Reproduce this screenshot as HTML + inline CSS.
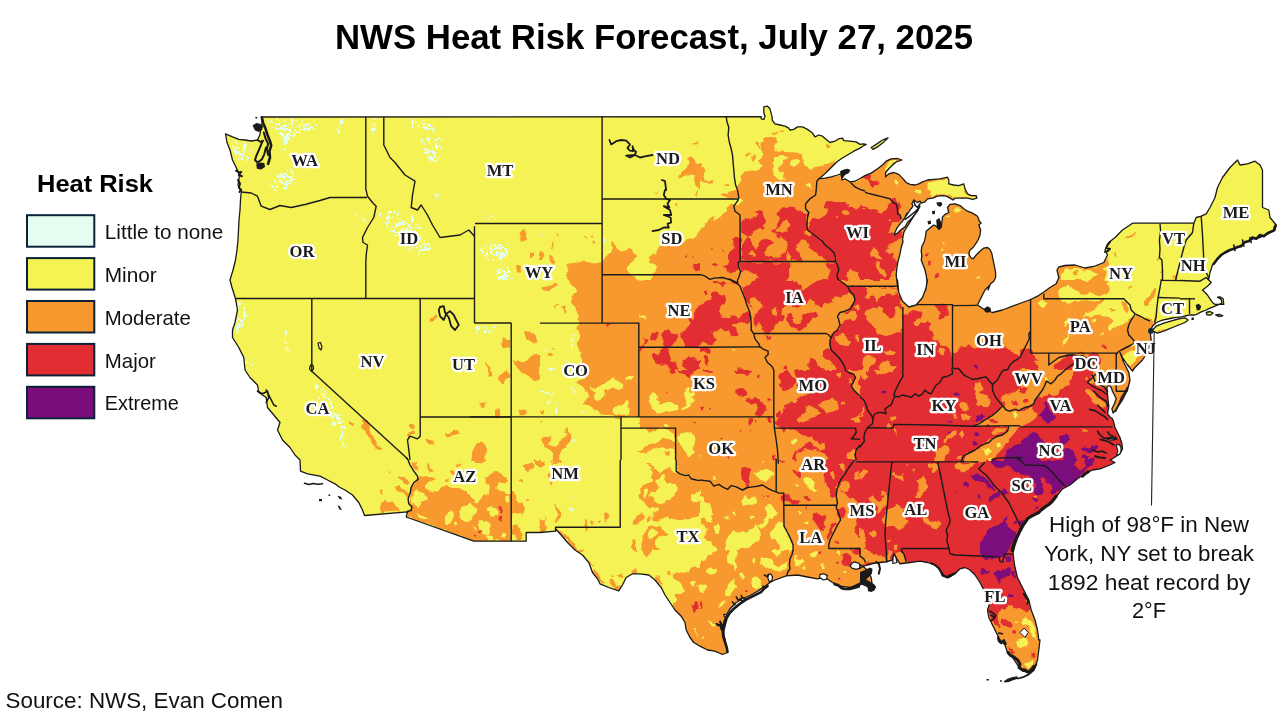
<!DOCTYPE html>
<html lang="en"><head><meta charset="utf-8"><title>NWS Heat Risk Forecast, July 27, 2025</title>
<style>html,body{margin:0;padding:0;background:#fff;overflow:hidden}svg{display:block}</style></head>
<body>
<svg width="1280" height="720" viewBox="0 0 1280 720">
<rect width="1280" height="720" fill="#fff"/>
<defs><clipPath id="us"><path d="M261.2,117.0 761.2,116.6 761.2,118.8 763.8,119.4 765.0,116.2 763.8,112.5 763.8,106.9 767.5,106.2 770.0,108.8 771.9,116.2 772.5,120.6 775.0,123.8 780.0,125.0 785.0,126.2 788.8,128.1 790.0,130.0 793.8,129.4 797.5,126.9 802.5,126.9 807.5,129.4 810.0,131.2 812.5,133.1 815.0,136.9 818.8,135.0 822.5,136.2 826.2,139.4 830.0,142.5 835.0,141.2 838.8,138.8 842.5,138.1 843.8,140.6 850.0,141.2 856.2,141.9 860.0,144.4 863.1,143.8 866.2,144.4 863.1,146.0 860.0,148.1 853.8,151.2 847.5,155.0 841.2,158.8 836.2,162.5 831.2,167.5 826.2,172.5 821.2,176.9 818.8,178.8 825.0,178.1 831.2,176.9 837.5,175.0 841.2,173.8 841.9,180.0 845.0,178.8 850.0,181.9 855.0,181.2 860.0,178.5 865.0,175.6 871.2,173.1 877.5,168.8 882.5,165.0 886.2,161.2 891.2,158.8 897.5,158.5 901.9,160.0 896.2,161.9 892.5,165.0 888.8,168.8 885.6,172.5 885.6,176.9 888.8,173.8 893.8,172.5 898.8,174.4 902.5,178.1 906.2,182.5 910.0,184.4 915.0,185.0 918.8,183.8 922.5,181.9 927.5,180.0 933.8,179.4 940.0,178.8 947.5,177.2 948.8,180.0 948.8,183.8 953.8,185.0 958.8,185.6 963.8,183.8 965.0,188.8 967.5,193.8 971.2,195.6 976.2,195.6 976.9,198.1 972.5,199.4 967.5,198.1 960.0,198.1 955.0,198.1 953.1,200.0 950.0,198.1 946.2,196.2 942.5,195.6 937.5,196.2 932.5,198.1 927.5,198.8 925.0,201.9 921.2,203.1 920.0,201.2 917.5,202.5 913.8,200.0 911.9,203.8 913.1,206.2 910.0,210.0 907.5,213.8 905.0,217.5 906.9,213.1 905.0,217.5 902.5,221.2 900.6,223.1 896.9,228.1 895.0,232.5 894.4,235.0 897.5,233.1 900.6,230.0 905.0,226.9 907.5,222.5 911.2,218.8 915.0,213.8 918.1,209.4 920.0,206.2 917.5,211.2 913.8,216.2 910.6,221.2 907.5,226.2 905.0,230.0 903.8,232.5 903.1,236.2 902.5,240.0 903.1,241.2 901.2,247.5 900.0,253.8 898.1,261.2 896.9,267.5 896.2,275.0 896.9,281.2 897.5,286.2 898.1,290.0 897.5,280.0 898.8,292.5 902.5,301.2 908.8,307.0 916.2,305.0 922.5,297.5 926.2,287.5 927.5,280.0 925.6,290.0 926.2,287.5 926.9,281.2 926.2,275.0 925.0,270.0 923.1,265.0 921.2,260.0 921.9,256.2 921.2,251.2 921.9,246.2 924.4,241.2 925.6,236.2 926.2,231.2 930.0,228.1 933.8,225.0 936.2,226.2 938.8,229.4 941.2,226.9 941.9,222.5 942.5,216.9 945.0,214.4 948.8,212.5 947.5,207.5 950.0,204.4 955.0,203.8 960.0,205.6 963.8,208.8 967.5,211.2 972.5,213.1 977.5,216.2 979.4,221.2 981.2,223.1 978.8,225.0 980.6,230.0 980.0,235.0 978.1,240.0 975.6,243.8 973.1,247.5 970.0,250.0 968.8,253.8 970.6,257.5 973.1,258.8 976.2,255.0 980.0,251.2 983.8,248.1 987.5,247.5 990.0,249.4 991.9,253.8 993.1,260.0 994.4,266.2 995.6,272.5 995.6,277.5 993.8,281.2 990.6,283.8 988.8,287.5 988.1,290.0 990.0,285.0 985.0,290.0 981.2,297.5 977.5,305.0 985.0,310.0 992.5,312.5 1002.5,310.0 1012.5,306.2 1022.5,302.5 1030.8,299.5 1037.5,296.2 1043.8,292.0 1050.0,287.5 1056.2,283.8 1058.8,277.5 1057.0,270.0 1058.8,267.0 1065.0,265.5 1075.0,265.0 1085.0,268.0 1095.0,266.2 1103.8,262.5 1107.5,255.0 1105.0,250.0 1108.8,242.5 1115.0,237.5 1122.5,230.0 1132.5,223.2 1160.0,223.2 1193.8,223.2 1196.2,217.5 1201.2,216.2 1206.2,213.8 1210.0,207.5 1215.0,197.5 1217.5,187.5 1222.5,177.5 1230.0,167.5 1237.5,160.0 1240.0,165.0 1247.5,163.8 1255.0,161.2 1260.0,165.0 1262.5,170.0 1262.5,192.5 1262.5,207.5 1268.8,210.0 1270.0,217.5 1276.2,225.0 1275.0,230.0 1267.5,233.8 1260.0,237.5 1252.5,238.8 1245.0,242.5 1237.5,247.5 1230.0,250.0 1222.5,253.8 1217.5,258.8 1212.5,265.0 1210.0,272.5 1208.8,278.8 1206.2,277.5 1211.2,282.5 1207.5,286.2 1202.5,290.0 1205.0,292.5 1207.5,295.0 1210.0,298.8 1212.5,302.5 1215.0,304.4 1223.8,304.4 1223.1,298.8 1220.0,296.9 1217.5,297.2 1221.2,299.4 1221.9,303.1 1215.0,306.2 1210.0,308.1 1206.2,310.0 1201.2,311.9 1197.5,313.8 1195.0,315.0 1190.0,314.8 1185.0,316.0 1177.5,317.2 1170.0,318.5 1162.5,320.2 1156.2,322.5 1152.5,326.2 1151.2,328.8 1150.0,331.2 1151.2,340.0 1147.5,352.5 1142.5,360.0 1135.0,367.5 1132.5,371.2 1127.5,365.0 1122.5,357.5 1120.0,352.5 1123.8,362.5 1128.8,372.5 1130.0,380.0 1127.5,390.0 1122.5,400.0 1117.5,407.5 1113.1,413.1 1111.9,408.8 1114.4,403.8 1116.2,398.8 1114.4,395.0 1112.5,391.2 1111.2,387.5 1109.0,385.0 1106.9,386.9 1107.5,395.0 1108.8,406.2 1107.5,413.8 1110.0,416.9 1112.5,418.8 1113.8,422.5 1115.0,427.5 1117.5,432.5 1120.0,437.5 1121.9,443.8 1122.5,448.8 1120.0,453.8 1116.2,456.2 1112.5,458.8 1110.0,460.0 1115.0,462.5 1110.0,465.0 1100.0,468.8 1092.5,470.0 1085.0,473.8 1077.5,478.8 1070.0,485.0 1062.5,488.8 1057.5,495.0 1052.5,501.2 1045.0,507.5 1037.5,512.5 1030.0,517.5 1023.8,522.5 1020.0,528.8 1017.5,535.0 1015.0,542.5 1013.0,552.5 1013.8,560.0 1015.0,567.5 1017.5,577.5 1021.2,585.0 1025.0,592.5 1028.8,600.0 1031.2,610.0 1035.0,620.0 1037.5,630.0 1038.8,640.0 1040.0,640.0 1038.8,650.0 1037.5,660.0 1035.0,667.5 1030.0,672.5 1022.5,671.2 1017.5,665.0 1012.5,657.5 1007.5,652.5 1005.0,645.0 1000.0,640.0 996.2,632.5 992.5,625.0 988.8,617.5 987.5,610.0 990.0,602.5 986.2,597.5 983.8,590.0 980.0,582.5 975.0,575.0 970.0,570.0 965.0,567.5 960.0,568.8 955.0,573.8 948.8,577.5 943.8,575.0 940.0,570.0 935.0,565.0 927.5,562.5 920.0,561.2 910.0,562.5 900.0,563.8 893.8,553.8 892.5,560.0 885.0,562.0 875.0,563.0 867.5,565.0 860.0,567.5 862.5,566.2 867.5,570.0 871.2,577.5 872.5,587.5 865.0,581.2 860.0,585.0 850.0,587.5 840.0,586.2 832.5,582.5 825.0,577.5 817.5,578.8 807.5,577.0 797.5,575.0 786.2,575.8 775.0,580.0 770.0,582.5 765.0,586.2 757.5,591.2 750.0,595.5 742.5,598.8 736.2,602.5 730.0,608.8 726.2,615.0 723.8,622.5 722.5,630.0 723.8,637.5 726.2,645.0 727.5,652.5 722.5,654.5 715.0,651.2 707.5,650.0 700.0,646.2 693.8,642.5 690.0,637.5 686.2,630.0 685.0,622.5 681.2,616.2 675.0,610.0 670.0,602.5 665.0,595.0 661.2,587.5 655.0,580.0 648.8,575.0 640.0,573.8 632.5,573.8 626.2,577.5 622.5,585.0 618.8,590.8 608.8,587.5 600.0,583.8 597.5,578.8 592.5,572.5 588.8,562.5 582.5,555.0 575.0,550.0 567.5,542.5 561.2,535.0 555.5,528.8 555.5,531.2 540.0,532.5 526.2,532.5 526.2,541.2 511.2,541.2 473.8,541.2 406.2,517.0 407.5,511.8 364.5,515.5 362.5,510.0 358.8,502.5 352.5,495.0 345.0,490.0 340.0,487.5 335.0,483.8 327.5,480.0 320.0,476.2 307.5,473.8 300.5,471.2 300.0,460.0 295.0,455.0 290.0,447.5 282.5,440.0 277.5,430.0 280.0,422.5 273.8,415.0 267.5,407.5 266.2,397.5 258.8,392.5 257.5,385.0 250.0,377.5 245.0,370.0 243.8,357.5 238.8,347.5 232.5,337.5 232.5,330.0 235.0,322.5 237.5,310.0 235.5,298.8 232.0,287.5 230.0,280.0 233.0,270.0 235.5,260.0 237.0,250.0 238.0,240.0 238.5,230.0 239.0,220.0 240.0,210.0 240.5,200.0 241.2,192.0 238.0,185.0 239.5,175.0 236.2,167.5 232.5,160.0 230.0,150.0 227.0,142.5 225.5,133.8 232.5,136.9 238.8,139.4 245.0,140.0 251.2,141.0 257.5,140.0 259.8,135.0 261.2,127.5 262.2,122.5 261.5,117.5Z M871.2,147.5 876.2,144.4 882.5,140.0 888.1,137.8 883.8,141.9 877.5,146.9 873.1,149.4Z M1151.9,330.6 1156.2,326.2 1163.8,323.1 1172.5,320.6 1180.0,318.5 1185.0,317.8 1188.1,320.0 1185.0,322.5 1178.8,325.0 1172.5,327.5 1165.0,330.6 1157.5,333.1Z M1206.2,312.5 1210.0,311.5 1213.1,313.1 1210.6,315.0 1206.9,314.8Z M1215.6,315.0 1220.0,314.5 1222.8,315.8 1218.8,316.5Z"/></clipPath></defs>
<pattern id="spk" width="24" height="24" patternUnits="userSpaceOnUse"><g fill="#E4FDF0"><rect x="7" y="18" width="2" height="2"/><rect x="19" y="15" width="1" height="1"/><rect x="15" y="8" width="2" height="2"/><rect x="22" y="15" width="3" height="3"/><rect x="20" y="4" width="2" height="2"/><rect x="16" y="12" width="1" height="1"/><rect x="5" y="18" width="1" height="2"/><rect x="0" y="8" width="3" height="3"/><rect x="22" y="13" width="3" height="3"/><rect x="4" y="11" width="1" height="1"/><rect x="4" y="15" width="2" height="2"/><rect x="21" y="13" width="2" height="3"/><rect x="16" y="12" width="2" height="3"/><rect x="18" y="7" width="2" height="1"/><rect x="8" y="19" width="2" height="2"/><rect x="17" y="18" width="1" height="2"/><rect x="20" y="18" width="2" height="2"/><rect x="3" y="2" width="3" height="3"/><rect x="2" y="11" width="1" height="3"/><rect x="4" y="0" width="2" height="3"/><rect x="13" y="3" width="1" height="1"/><rect x="12" y="22" width="2" height="2"/><rect x="16" y="7" width="1" height="2"/><rect x="0" y="2" width="1" height="1"/><rect x="6" y="13" width="2" height="2"/><rect x="4" y="22" width="1" height="2"/><rect x="10" y="11" width="2" height="3"/><rect x="12" y="14" width="3" height="1"/><rect x="19" y="16" width="2" height="3"/><rect x="20" y="22" width="2" height="2"/><rect x="13" y="8" width="2" height="2"/><rect x="0" y="13" width="2" height="1"/><rect x="12" y="19" width="2" height="1"/><rect x="20" y="20" width="2" height="3"/><rect x="11" y="21" width="2" height="2"/><rect x="15" y="0" width="1" height="1"/><rect x="11" y="8" width="3" height="2"/><rect x="18" y="19" width="2" height="2"/><rect x="11" y="5" width="2" height="2"/><rect x="19" y="8" width="2" height="3"/><rect x="3" y="0" width="2" height="2"/><rect x="16" y="7" width="2" height="2"/><rect x="10" y="5" width="3" height="1"/><rect x="3" y="19" width="2" height="2"/><rect x="21" y="7" width="3" height="2"/><rect x="2" y="10" width="2" height="3"/><rect x="8" y="7" width="1" height="1"/><rect x="16" y="6" width="2" height="2"/><rect x="8" y="10" width="1" height="2"/><rect x="18" y="4" width="3" height="2"/><rect x="16" y="8" width="3" height="2"/><rect x="20" y="13" width="2" height="3"/><rect x="18" y="13" width="1" height="3"/><rect x="4" y="6" width="1" height="3"/><rect x="19" y="16" width="3" height="2"/><rect x="1" y="14" width="2" height="2"/><rect x="7" y="2" width="2" height="1"/><rect x="7" y="1" width="1" height="2"/><rect x="13" y="18" width="1" height="1"/><rect x="15" y="3" width="2" height="2"/></g></pattern>
<filter id="rough" x="0" y="0" width="1280" height="720" filterUnits="userSpaceOnUse"><feTurbulence type="fractalNoise" baseFrequency="0.11" numOctaves="2" seed="7" result="n"/><feDisplacementMap in="SourceGraphic" in2="n" scale="7" xChannelSelector="R" yChannelSelector="G"/></filter>
<g clip-path="url(#us)"><rect x="200" y="90" width="1080" height="610" fill="#F5F254"/><g filter="url(#rough)"><rect x="190" y="80" width="1100" height="630" fill="#F5F254"/>
<defs><clipPath id="t0"><rect x="700" y="100" width="160" height="90"/></clipPath><clipPath id="t1"><rect x="540" y="100" width="160" height="90"/></clipPath><clipPath id="t2"><rect x="540" y="190" width="160" height="90"/></clipPath><clipPath id="t3"><rect x="700" y="190" width="160" height="90"/></clipPath><clipPath id="t4"><rect x="540" y="280" width="160" height="90"/></clipPath><clipPath id="t5"><rect x="700" y="280" width="160" height="90"/></clipPath><clipPath id="t6"><rect x="860" y="280" width="160" height="90"/></clipPath><clipPath id="t7"><rect x="1020" y="280" width="160" height="90"/></clipPath><clipPath id="t8"><rect x="540" y="370" width="160" height="90"/></clipPath><clipPath id="t9"><rect x="700" y="370" width="160" height="90"/></clipPath><clipPath id="t10"><rect x="860" y="370" width="160" height="90"/></clipPath><clipPath id="t11"><rect x="1020" y="370" width="160" height="90"/></clipPath><clipPath id="t12"><rect x="540" y="460" width="160" height="90"/></clipPath><clipPath id="t13"><rect x="700" y="460" width="160" height="90"/></clipPath><clipPath id="t14"><rect x="860" y="460" width="160" height="90"/></clipPath><clipPath id="t15"><rect x="1020" y="460" width="160" height="90"/></clipPath><clipPath id="t16"><rect x="860" y="190" width="160" height="90"/></clipPath><clipPath id="t17"><rect x="860" y="100" width="160" height="90"/></clipPath><clipPath id="t18"><rect x="1020" y="190" width="160" height="90"/></clipPath><clipPath id="t19"><rect x="540" y="550" width="160" height="90"/></clipPath><clipPath id="t20"><rect x="700" y="550" width="160" height="90"/></clipPath><clipPath id="t21"><rect x="860" y="550" width="160" height="90"/></clipPath><clipPath id="t22"><rect x="980" y="540" width="160" height="90"/></clipPath><clipPath id="t23"><rect x="940" y="600" width="160" height="90"/></clipPath><clipPath id="t24"><rect x="380" y="460" width="160" height="90"/></clipPath><clipPath id="t25"><rect x="220" y="100" width="320" height="180"/></clipPath><clipPath id="t26"><rect x="220" y="280" width="320" height="180"/></clipPath><clipPath id="t27"><rect x="640" y="620" width="160" height="90"/></clipPath></defs>
<g clip-path="url(#t0)">
<rect x="700" y="100" width="160" height="90" fill="#F5F254"/>
<path fill="#F7992E" d="M737.5,190.0 738.8,186.2 742.5,180.0 741.2,175.0 743.8,171.2 750.0,171.2 755.0,170.0 760.0,168.8 762.5,165.0 758.8,161.2 762.5,158.8 763.8,155.0 761.2,151.2 758.8,147.5 761.2,143.8 765.0,142.5 763.8,138.8 767.5,136.9 773.8,136.9 776.2,138.8 776.9,142.5 773.8,146.2 775.0,148.8 780.0,151.2 787.5,151.9 795.0,152.5 800.0,153.8 802.5,156.2 801.2,160.0 803.8,163.8 806.2,167.5 812.5,168.1 818.8,167.5 825.0,165.0 831.2,161.9 836.2,160.6 831.2,167.5 826.2,172.5 821.2,176.9 818.8,178.8 825.0,178.1 831.2,176.9 837.5,175.0 841.2,173.8 841.9,180.0 845.0,178.8 850.0,181.9 855.0,181.2 860.0,178.1 860.0,190.0Z M745.0,155.0 750.0,152.5 751.2,153.8 746.2,157.5Z M753.8,143.1 756.2,143.1 758.8,146.9 756.9,147.5Z M752.5,155.0 756.2,153.8 755.0,158.8 753.8,162.5 751.9,161.2Z M770.0,133.1 776.2,131.2 777.5,131.9 771.2,135.0Z M778.8,129.4 781.9,129.4 781.9,131.2 778.8,131.2Z M826.2,143.8 831.2,145.0 831.2,146.9 826.2,145.6Z M700.0,168.1 703.8,168.8 705.0,173.8 703.8,178.8 707.5,181.2 712.5,181.2 711.2,185.0 706.2,183.8 702.5,181.2 700.0,177.5Z M723.8,185.6 726.9,185.0 726.9,186.9 723.8,186.9Z"/>
<path fill="#F5F254" d="M775.0,156.2 781.2,155.0 787.5,156.2 786.2,158.8 782.5,160.0 783.8,162.5 781.2,165.0 780.0,170.0 783.8,175.0 785.0,178.8 781.2,180.0 777.5,177.5 776.2,173.8 772.5,171.2 773.8,166.2 772.5,162.5 775.0,160.0Z M790.0,160.0 796.2,158.8 800.0,161.2 798.8,163.8 793.8,166.2 790.0,165.0Z M805.0,185.0 810.0,183.8 811.2,187.5 807.5,188.8Z"/>
</g>
<g clip-path="url(#t1)">
<rect x="540" y="100" width="160" height="90" fill="#F5F254"/>
<path fill="#F7992E" d="M686.2,158.8 691.2,156.2 695.0,158.8 697.5,162.5 700.0,163.8 700.0,190.0 696.2,185.0 695.0,177.5 693.8,173.8 690.0,175.0 686.2,176.2 681.2,177.5 678.8,178.8 681.2,172.5 685.0,170.0 687.5,165.0 688.8,161.2Z M691.2,143.1 697.5,142.2 696.9,144.0 691.9,144.5Z"/>
</g>
<g clip-path="url(#t2)">
<rect x="540" y="190" width="160" height="90" fill="#F5F254"/>
<path fill="#F7992E" d="M566.9,280.0 566.9,271.2 568.8,265.0 573.8,261.9 581.2,261.2 590.0,262.5 597.5,261.9 602.5,262.5 605.0,258.8 607.5,255.0 610.0,252.5 612.5,248.8 611.2,243.8 612.5,242.5 615.0,245.0 617.5,248.1 621.2,252.5 626.2,251.2 630.0,248.1 632.5,251.2 636.2,255.0 637.5,257.5 635.0,260.0 632.5,262.5 630.0,265.0 627.5,268.8 630.0,272.5 633.8,276.2 636.2,280.0Z M650.0,280.0 652.5,275.0 655.6,270.0 656.2,266.2 652.5,263.8 650.0,261.2 652.5,255.0 656.2,252.5 658.8,246.2 665.0,245.0 675.0,244.4 683.8,242.5 687.5,240.0 693.8,238.8 697.5,232.5 700.0,230.0 700.0,280.0Z M540.0,251.2 542.5,250.0 544.4,255.0 542.5,260.0 540.0,260.0Z M549.4,255.6 552.5,257.5 555.6,261.2 553.8,265.0 551.2,262.5 549.4,258.8Z M557.5,233.8 560.0,233.8 559.4,236.9 557.5,236.2Z M551.9,240.0 553.1,240.0 553.8,247.5 552.5,248.8Z M583.8,237.5 586.2,236.9 585.6,238.8Z M590.0,236.2 593.1,235.6 592.5,238.1Z M591.2,240.6 593.8,241.2 593.1,243.8Z M675.0,203.1 676.9,203.1 677.5,206.9 676.0,207.5Z M655.6,193.1 658.8,193.8 658.1,195.6Z M695.0,195.0 697.5,190.6 698.1,192.5 696.2,198.1Z"/>
<path fill="#E22E33" d="M693.1,265.0 696.2,263.8 700.0,263.1 700.0,270.0 696.2,271.2 693.8,269.4Z M683.8,256.9 686.2,256.2 685.6,258.8Z M692.5,255.0 695.0,255.0 694.4,256.9Z"/>
<path fill="url(#spk)" d="M540.0,233.1 542.5,233.1 546.2,240.0 547.5,243.8 545.0,242.5 542.5,238.8Z M603.8,239.4 607.5,240.0 606.9,242.5 608.1,245.0 605.6,243.8Z M606.9,249.4 610.0,250.0 608.8,252.5Z"/>
</g>
<g clip-path="url(#t3)">
<rect x="700" y="190" width="160" height="90" fill="#F7992E"/>
<path fill="#F5F254" d="M700.0,190.0 730.0,190.0 728.8,193.8 722.5,195.0 725.0,197.5 731.2,198.8 737.5,197.5 742.5,198.8 741.2,202.5 736.2,203.8 732.5,202.5 728.8,203.8 726.2,207.5 727.5,211.2 723.8,213.1 720.0,216.9 716.2,220.0 713.8,215.0 710.0,218.8 706.2,222.5 702.5,222.5 703.8,226.2 700.0,228.8Z"/>
<path fill="#E22E33" d="M741.2,223.8 746.2,218.1 752.5,216.9 756.2,218.1 758.8,215.0 755.0,212.5 757.5,210.6 762.5,211.9 763.8,216.9 766.2,218.8 765.0,223.8 762.5,225.6 765.0,228.8 762.5,231.2 758.8,228.8 755.0,231.2 751.2,236.2 747.5,237.5 743.8,233.8 741.2,230.0Z M777.5,213.1 780.0,208.8 787.5,207.5 792.5,206.2 798.8,210.0 806.2,213.8 807.5,221.2 806.9,227.5 805.0,232.5 808.8,236.2 812.5,235.0 817.5,238.1 822.5,241.9 825.0,245.0 830.0,248.8 833.8,252.5 835.6,261.5 826.2,261.5 823.8,257.5 818.8,255.0 815.0,252.5 810.0,248.8 808.8,242.5 805.0,238.8 800.0,240.0 797.5,243.8 796.2,248.8 800.0,253.8 803.8,258.8 800.0,261.5 791.2,261.5 790.0,256.2 787.5,252.5 786.2,246.2 787.5,242.5 785.0,238.8 781.2,236.2 777.5,237.5 773.8,233.8 771.2,231.2 775.0,227.5 777.5,222.5 780.0,218.8 777.5,216.2Z M741.2,261.5 741.2,245.0 745.0,240.0 747.5,237.5 750.0,240.0 752.5,245.0 757.5,248.8 758.8,243.8 761.2,240.0 765.0,238.8 770.0,240.0 772.5,242.5 770.0,246.2 767.5,250.0 765.0,252.5 767.5,256.2 773.8,257.5 777.5,260.0 780.0,257.5 782.5,252.5 786.2,248.8 786.2,255.0 788.8,261.5Z M732.5,240.0 736.2,237.5 740.0,238.8 740.0,261.5 737.5,262.5 738.8,267.5 736.2,271.2 732.5,273.8 728.8,272.5 725.0,270.0 722.5,267.5 727.5,265.0 731.2,261.2 728.8,256.2 730.0,252.5 733.8,250.0 736.2,246.2 733.8,243.8Z M711.2,265.0 716.2,263.8 718.8,265.6 715.0,267.5 711.9,266.9Z M711.9,247.5 713.8,247.5 713.1,250.0Z M721.2,250.0 723.1,251.2 722.5,253.8Z M807.5,231.2 810.0,222.5 812.5,218.8 817.5,220.0 821.2,216.2 825.0,213.8 827.5,208.8 823.8,206.2 826.2,201.2 831.2,200.0 837.5,201.2 843.8,203.8 850.0,207.5 856.2,208.8 860.0,206.2 860.0,272.5 853.8,271.2 848.8,270.0 846.2,275.0 847.5,280.0 838.1,280.0 836.9,275.0 838.8,270.0 837.5,265.0 835.6,261.5 835.6,257.5 833.8,252.5 830.0,248.8 825.0,245.0 822.5,241.2 817.5,237.5 812.5,233.8Z M738.8,262.5 790.0,262.5 790.6,267.5 787.5,272.5 786.2,280.0 757.5,280.0 755.0,275.0 750.0,271.2 745.0,270.0 741.2,271.2 740.0,267.5Z M826.2,262.5 835.6,262.5 837.5,265.0 838.8,270.0 836.9,275.0 838.1,280.0 828.8,280.0 827.5,275.0 830.0,270.0 827.5,266.2Z"/>
<path fill="#F7992E" d="M773.8,228.8 780.0,226.2 785.0,221.2 787.5,220.0 789.4,226.2 787.5,231.2 782.5,233.8 777.5,232.5 773.8,231.2Z M749.4,252.5 753.8,250.0 756.2,253.8 753.8,256.9 750.0,255.6Z M766.2,248.8 771.2,245.0 775.0,240.0 780.0,237.5 782.5,240.0 781.2,245.0 777.5,248.8 773.8,251.2 770.0,255.0 766.2,253.8Z M836.2,216.2 838.8,215.6 838.8,218.8 836.2,218.8Z M843.8,211.2 847.5,208.8 851.2,211.2 848.8,213.8 845.0,213.8Z"/>
</g>
<g clip-path="url(#t4)">
<rect x="540" y="280" width="160" height="90" fill="#F7992E"/>
<path fill="#F5F254" d="M540.0,280.0 568.8,280.0 571.2,285.0 575.0,288.8 576.2,293.8 572.5,296.2 570.0,301.2 572.5,306.2 576.2,311.2 580.0,315.0 578.8,321.2 577.5,326.2 576.2,330.0 578.8,335.0 580.0,340.0 578.8,345.0 581.2,352.5 580.0,357.5 582.5,362.5 583.8,367.5 582.5,370.0 540.0,370.0Z"/>
<path fill="#F7992E" d="M541.2,288.8 545.0,287.5 547.5,286.2 551.2,285.0 555.0,282.5 558.8,281.9 559.4,285.6 555.0,286.9 551.2,288.8 547.5,291.2 543.8,290.6Z M561.2,306.2 565.0,305.6 566.9,310.0 567.5,313.8 565.6,313.1 564.4,309.4 561.9,308.1Z M555.0,305.6 558.1,305.0 556.2,308.1 555.0,310.6Z M547.5,353.8 551.2,352.5 552.5,355.0 548.8,356.2Z M552.5,348.8 555.0,348.1 555.6,350.6Z"/>
<path fill="url(#spk)" d="M571.9,335.0 573.8,335.0 573.8,342.5 571.2,350.0 568.8,355.0 566.2,360.0 565.0,365.0 563.8,367.5 562.5,362.5 566.2,357.5 569.4,352.5 571.2,345.0Z M543.8,347.5 546.2,346.2 546.9,349.4 544.4,350.0Z M547.5,366.2 552.5,365.0 557.5,366.2 558.8,370.0 548.8,370.0Z"/>
<path fill="#F5F254" d="M640.0,315.6 646.2,316.9 645.6,318.5 640.0,316.9Z M636.2,280.0 643.8,280.0 642.5,281.9 637.5,281.2Z"/>
<path fill="#E22E33" d="M700.0,305.0 696.2,308.8 693.8,312.5 692.5,317.5 687.5,318.8 690.0,322.5 686.2,327.5 682.5,332.5 680.0,336.2 683.8,340.0 686.2,345.0 690.0,347.2 696.2,347.2 700.0,345.0Z M663.1,331.2 667.5,330.0 671.2,332.5 676.2,333.8 677.5,337.5 675.0,341.2 672.5,345.0 670.0,347.2 665.0,347.2 662.5,343.8 663.8,340.0 661.2,336.2Z M650.0,333.8 653.8,332.5 657.5,333.8 658.8,337.5 655.0,340.0 651.2,338.8Z M643.8,338.8 647.5,338.1 646.2,342.5 643.8,345.0 641.2,347.5 640.0,351.2 643.1,351.2 643.8,347.5Z M605.6,324.4 609.4,323.8 608.8,326.2 606.2,327.2Z M650.0,355.0 653.8,352.5 658.8,353.8 662.5,350.0 666.2,348.1 670.0,350.0 668.8,355.0 671.2,360.0 675.0,362.5 677.5,367.5 678.8,370.0 670.0,370.0 667.5,365.0 662.5,363.8 657.5,362.5 652.5,360.0Z M681.2,360.0 686.2,357.5 690.0,355.0 693.8,357.5 697.5,361.2 700.0,360.0 700.0,370.0 687.5,370.0 683.8,366.2Z"/>
</g>
<g clip-path="url(#t5)">
<rect x="700" y="280" width="160" height="90" fill="#F7992E"/>
<path fill="#E22E33" d="M700.0,306.2 702.5,303.8 706.2,301.2 711.2,298.8 712.5,293.8 717.5,293.1 721.2,296.2 725.0,298.8 726.2,302.5 722.5,305.0 720.0,308.8 718.8,312.5 722.5,315.0 725.0,317.5 730.0,318.8 735.0,316.2 740.0,317.5 743.8,312.5 747.5,310.0 749.4,311.2 750.6,317.5 748.8,322.5 743.8,323.8 740.0,321.2 736.2,322.5 732.5,325.0 736.2,328.8 737.5,333.8 735.0,337.5 731.2,336.2 728.8,331.2 725.0,330.0 721.2,328.8 717.5,331.2 713.8,330.0 710.0,332.5 712.5,337.5 716.2,338.8 713.8,343.8 708.8,345.0 703.8,343.8 700.0,345.0Z M700.0,347.5 712.5,348.1 711.2,352.5 706.2,353.8 702.5,351.2 700.0,351.9Z M703.8,357.5 707.5,356.2 708.8,361.2 706.2,365.0 703.8,362.5Z M702.5,291.9 706.2,291.2 707.5,295.0 704.4,296.2Z M741.2,287.5 745.0,285.0 750.0,282.5 755.0,280.0 792.5,280.0 795.0,282.5 800.0,285.0 802.5,287.5 800.0,290.0 805.0,288.8 808.8,286.2 812.5,283.8 816.2,281.2 820.0,280.0 838.8,280.0 842.5,282.5 847.5,286.2 850.0,291.2 847.5,293.8 843.8,296.2 840.0,297.5 835.0,296.2 832.5,298.8 833.8,302.5 830.0,305.0 825.0,303.8 821.2,306.2 817.5,303.8 813.8,301.2 810.0,298.8 807.5,302.5 806.2,305.0 803.8,303.8 800.0,307.5 796.2,305.0 792.5,306.2 790.0,303.8 786.2,305.0 782.5,307.5 781.2,312.5 783.8,316.2 782.5,321.2 780.0,323.8 776.2,326.2 773.8,330.0 770.0,331.2 767.5,333.5 763.8,332.5 762.5,327.5 760.0,323.8 756.2,322.5 753.8,317.5 755.0,313.8 758.8,311.2 762.5,307.5 761.2,303.8 757.5,305.0 753.8,308.8 750.0,306.2 747.5,302.5 745.0,298.8 742.5,292.5Z M787.5,315.0 791.2,313.8 793.8,317.5 792.5,321.2 795.0,323.8 800.0,322.5 803.8,318.8 802.5,316.2 806.2,315.0 810.0,312.5 815.0,312.5 818.8,315.0 816.2,317.5 812.5,318.8 810.0,321.2 806.2,323.8 802.5,327.5 800.0,331.2 796.2,330.0 793.8,327.5 790.0,326.2 787.5,322.5 785.0,320.0Z M753.8,313.8 756.2,315.0 757.5,320.0 758.8,325.0 756.2,327.5 753.8,323.8Z M765.0,335.0 768.8,334.4 772.5,336.2 770.0,338.8 766.2,340.0Z M847.5,286.2 860.0,286.2 860.0,370.0 845.6,370.0 845.0,367.5 842.5,362.5 838.8,357.5 835.0,353.8 831.2,350.0 830.0,345.0 830.0,340.0 831.9,336.2 833.8,332.5 837.5,330.0 840.0,325.0 842.5,322.5 846.2,320.0 850.0,318.8 853.8,321.2 857.5,317.5 855.0,313.8 851.2,311.2 847.5,312.5 845.0,311.2 850.0,308.8 852.5,305.0 855.0,300.0 853.8,295.0 850.0,291.2Z M823.8,351.2 827.5,348.1 831.2,350.0 835.0,353.8 838.8,357.5 842.5,362.5 845.0,367.5 845.6,370.0 836.2,370.0 832.5,366.2 830.0,361.2 826.2,360.0 822.5,356.2Z M808.8,361.2 812.5,359.4 816.2,362.5 818.8,366.2 823.8,367.5 826.2,370.0 810.0,370.0 808.1,366.2Z M782.5,367.5 786.2,366.2 787.5,370.0 782.5,370.0Z M737.5,367.5 742.5,367.5 743.8,370.0 737.5,370.0Z M712.5,280.0 716.2,280.0 718.8,282.5 723.8,281.2 726.2,283.8 722.5,286.2 718.8,285.0Z M728.8,280.0 731.2,280.0 736.2,282.5 740.0,286.2 737.5,285.0 733.8,283.8Z"/>
<path fill="#F7992E" d="M750.0,298.8 753.8,296.2 757.5,298.8 761.2,301.2 762.5,306.2 758.8,310.0 755.0,311.2 752.5,307.5 750.0,303.8Z M771.2,310.0 775.0,308.1 777.5,311.2 776.2,314.4 772.5,313.8Z M836.2,335.0 841.2,333.8 846.2,336.2 850.0,340.0 848.8,345.0 845.0,346.2 840.0,343.8 836.2,340.0Z M855.0,305.0 858.8,303.8 860.0,310.0 856.2,312.5Z M856.2,336.2 860.0,335.0 860.0,342.5 856.9,341.2Z M838.8,315.0 843.8,313.8 846.2,317.5 842.5,321.2 839.4,320.0Z"/>
<path fill="#F5F254" d="M731.2,348.1 733.8,348.5 733.1,350.2 731.2,349.8Z"/>
</g>
<g clip-path="url(#t6)">
<rect x="860" y="280" width="160" height="90" fill="#F7992E"/>
<path fill="#E22E33" d="M860.0,286.9 897.5,286.9 898.1,292.5 901.2,298.8 902.9,306.9 902.9,370.0 860.0,370.0Z"/>
<path fill="#F7992E" d="M865.0,287.5 897.5,287.5 897.5,293.8 895.0,293.8 888.8,295.6 883.8,297.5 880.0,296.2 876.2,300.6 875.0,295.0 871.2,296.2 867.5,300.0 865.0,296.2 867.5,292.5Z M866.2,311.2 871.2,308.8 875.0,306.2 878.8,305.0 883.8,308.8 882.5,312.5 885.0,316.2 888.8,318.8 892.5,317.5 895.0,313.8 893.8,308.8 897.5,306.9 902.9,308.8 902.9,332.5 898.8,331.2 895.0,332.5 890.0,335.0 885.0,336.2 881.2,333.8 876.2,331.2 873.8,327.5 872.5,322.5 868.8,317.5 865.0,314.4Z M862.5,360.0 866.2,356.2 871.2,355.0 876.2,357.5 875.0,362.5 871.2,366.2 868.8,370.0 862.5,370.0Z M878.8,365.0 883.8,361.2 888.8,362.5 892.5,366.2 897.5,367.5 896.2,370.0 880.0,370.0Z M885.0,351.2 890.0,350.0 895.0,352.5 892.5,355.0 887.5,355.0Z"/>
<path fill="#E22E33" d="M878.8,296.2 883.8,295.0 888.8,294.4 893.8,295.0 897.5,298.8 896.2,302.5 891.2,304.4 886.2,302.5 881.2,301.2Z M902.9,332.5 902.9,317.5 907.5,312.5 912.5,310.0 918.8,311.2 922.5,313.8 921.2,317.5 917.5,320.0 915.0,323.8 918.8,326.2 923.8,322.5 927.5,320.0 930.0,322.5 930.0,326.2 933.8,330.0 935.0,335.0 933.8,340.0 937.5,342.5 941.2,345.0 946.2,346.2 950.0,350.0 952.5,353.8 952.5,370.0 902.9,370.0Z M935.0,305.0 946.2,305.0 948.8,308.8 947.5,313.8 945.0,316.2 942.5,320.0 938.8,318.8 940.0,313.8 937.5,310.0Z"/>
<path fill="#F7992E" d="M937.5,350.0 941.2,347.5 945.0,350.0 943.8,355.0 940.0,356.2Z"/>
<path fill="#E22E33" d="M952.5,353.8 956.2,350.0 961.2,347.5 966.2,345.0 970.0,346.2 975.0,347.5 980.0,348.8 985.0,350.0 990.0,348.8 995.0,347.5 1001.2,346.9 1007.5,348.1 1012.5,351.2 1017.5,355.0 1020.0,356.2 1020.0,370.0 952.5,370.0Z"/>
<path fill="#7B0C7B" d="M973.1,365.6 976.2,365.2 976.9,367.5 973.8,367.5Z"/>
</g>
<g clip-path="url(#t7)">
<rect x="1020" y="280" width="160" height="90" fill="#F7992E"/>
<path fill="#F5F254" d="M1057.5,297.5 1057.5,290.0 1062.5,286.2 1070.0,283.8 1073.8,288.8 1078.8,293.8 1085.0,295.0 1090.0,291.2 1095.0,295.0 1101.2,296.2 1107.5,293.8 1110.0,287.5 1107.5,282.5 1110.0,280.0 1161.2,280.0 1158.1,297.5 1156.9,307.5 1155.6,317.5 1152.5,325.0 1150.0,321.2 1145.0,318.8 1140.0,316.2 1136.2,314.4 1132.5,317.5 1128.8,321.2 1125.0,323.8 1120.0,325.0 1115.0,327.5 1110.0,330.0 1107.5,327.5 1111.2,323.8 1113.8,320.0 1110.0,317.5 1105.0,316.2 1100.0,314.4 1095.0,315.0 1091.2,317.5 1087.5,316.2 1082.5,317.5 1086.2,312.5 1091.2,311.2 1095.0,308.8 1098.8,305.0 1103.8,303.1 1107.5,301.2 1102.5,300.0 1097.5,301.2 1092.5,300.0 1087.5,301.2 1082.5,300.0 1077.5,301.9 1073.8,300.6 1070.0,303.8 1065.0,302.5 1061.2,300.0Z M1158.1,280.0 1180.0,280.0 1180.0,317.5 1156.2,322.5 1156.9,307.5 1158.1,297.5Z M1152.5,326.2 1180.0,319.4 1180.0,325.0 1151.2,332.5Z"/>
<path fill="#F7992E" d="M1075.0,283.8 1080.0,282.5 1085.0,285.0 1087.5,288.8 1085.0,291.2 1080.0,292.5 1076.2,288.8Z M1090.0,280.0 1100.0,280.0 1102.5,285.0 1100.0,288.8 1095.0,287.5 1091.2,285.0Z M1145.0,301.2 1148.8,295.0 1152.5,290.0 1156.2,288.8 1155.0,296.2 1151.2,301.2 1148.8,306.2 1145.0,305.0Z M1123.8,301.2 1127.5,305.0 1130.0,310.0 1127.5,313.8 1123.8,311.2 1122.5,306.2Z M1107.5,308.8 1112.5,308.1 1115.0,310.6 1111.2,311.9Z M1127.5,287.5 1132.5,286.9 1131.9,289.4 1127.5,290.0Z"/>
<path fill="#F5F254" d="M1038.8,301.2 1043.8,300.0 1047.5,302.5 1046.2,306.2 1042.5,308.8 1040.0,306.2Z M1063.8,321.2 1068.8,318.8 1072.5,320.0 1070.0,323.8 1066.2,326.2Z M1090.0,320.0 1095.0,318.8 1095.0,322.5 1091.2,323.8Z M1061.2,342.5 1063.8,338.8 1067.5,335.0 1066.2,340.0 1063.8,345.0Z M1100.0,333.8 1103.8,333.1 1103.8,335.6 1100.6,335.6Z M1123.8,355.0 1127.5,352.5 1132.5,351.2 1137.5,352.5 1138.8,356.2 1136.2,360.0 1132.5,363.8 1128.8,365.0 1125.0,362.5 1122.5,358.8Z M1128.8,345.0 1133.8,343.8 1135.0,346.2 1131.2,348.1Z"/>
<path fill="#E22E33" d="M1020.0,350.0 1023.8,348.1 1027.5,347.5 1030.6,350.0 1032.5,353.8 1036.2,356.2 1038.8,360.0 1035.0,362.5 1037.5,366.2 1040.0,370.0 1020.0,370.0Z M1055.0,365.0 1058.8,361.2 1062.5,358.8 1067.5,356.2 1072.5,355.0 1076.2,357.5 1075.0,362.5 1072.5,367.5 1071.2,370.0 1053.8,370.0Z M1078.8,351.9 1082.5,350.6 1085.0,352.5 1081.2,353.8Z M1087.5,355.0 1095.0,353.1 1100.0,355.0 1101.2,360.0 1100.0,365.0 1097.5,370.0 1087.5,370.0Z M1101.2,346.2 1105.0,345.0 1106.2,347.5 1102.5,348.8Z"/>
</g>
<g clip-path="url(#t8)">
<rect x="540" y="370" width="160" height="90" fill="#F7992E"/>
<path fill="#F5F254" d="M540.0,370.0 588.8,370.0 587.5,375.0 583.8,378.8 578.8,380.0 577.5,383.8 582.5,386.2 586.2,391.2 588.8,396.2 586.2,400.0 583.8,402.5 590.0,405.0 593.8,407.5 597.5,411.2 602.5,414.4 607.5,415.0 615.0,413.8 620.0,416.2 621.2,416.9 638.8,416.9 638.8,428.1 646.2,428.1 650.0,432.5 655.0,430.0 662.5,428.1 668.8,428.8 672.5,432.5 675.6,437.5 675.6,460.0 540.0,460.0Z"/>
<path fill="#F7992E" d="M541.2,441.2 545.0,437.5 550.0,435.0 551.2,440.0 550.0,445.0 553.8,446.2 557.5,443.8 561.2,441.2 565.0,437.5 566.2,432.5 562.5,431.2 566.2,428.8 570.0,433.8 571.2,438.8 568.8,443.8 566.2,447.5 562.5,450.0 560.0,453.8 558.8,460.0 551.2,460.0 552.5,453.8 548.8,448.8 545.0,446.2 542.5,443.8Z M615.0,417.5 620.0,418.1 618.8,420.0 615.6,419.4Z M540.0,410.6 543.8,410.0 545.0,412.5 541.2,413.8Z M540.0,418.8 542.5,420.0 541.2,421.9Z M637.5,451.2 642.5,450.0 646.2,446.2 651.2,445.0 655.0,442.5 660.0,440.0 665.0,438.8 670.0,440.0 673.8,442.5 675.6,445.0 675.6,450.0 671.2,448.8 666.2,447.5 661.2,446.2 656.2,447.5 652.5,450.0 647.5,451.2 643.8,453.8 640.0,453.1Z M665.0,451.2 668.8,450.0 670.0,453.8 666.2,455.0Z"/>
<path fill="#F5F254" d="M600.0,385.0 605.0,382.5 610.0,380.0 611.2,376.2 615.0,378.8 618.8,381.2 622.5,385.0 621.2,388.8 617.5,390.0 613.8,387.5 610.0,388.8 606.2,391.2 605.0,395.0 601.2,398.8 597.5,401.2 593.8,398.8 592.5,395.0 595.0,391.2 591.2,390.0 590.0,386.2 593.8,387.5 597.5,386.2Z M625.0,376.2 630.0,375.6 633.8,378.8 632.5,381.2 627.5,380.0 624.4,378.8Z M613.8,408.8 617.5,406.2 622.5,405.0 625.0,401.2 627.5,400.0 628.8,403.8 627.5,407.5 630.0,411.2 628.8,415.0 623.8,414.4 620.0,413.1 615.0,412.5Z M649.4,396.2 652.5,392.5 656.2,391.9 658.1,395.0 656.2,398.8 657.5,402.5 661.2,403.8 666.2,402.5 671.2,403.8 676.2,406.2 677.5,410.0 672.5,411.2 667.5,412.5 662.5,413.8 657.5,412.5 653.8,410.0 651.2,406.2 650.0,401.2Z M682.5,392.5 686.2,388.8 690.0,391.2 693.8,390.0 695.0,393.8 691.2,396.2 692.5,401.2 690.0,406.2 686.2,408.8 682.5,410.0 681.2,407.5 686.2,405.0 687.5,400.0 685.0,396.2Z M680.0,435.0 685.0,432.5 690.0,433.8 693.8,437.5 695.0,443.8 692.5,448.8 693.8,453.8 690.0,457.5 686.2,455.0 683.8,450.0 680.0,445.0 678.8,440.0Z M663.8,423.8 666.2,422.5 668.8,425.0 665.0,426.2Z"/>
<path fill="url(#spk)" d="M540.0,390.0 545.0,391.2 550.0,393.8 556.2,395.0 557.5,397.5 552.5,398.1 547.5,396.9 542.5,395.0 540.0,393.8Z M571.2,387.5 572.5,387.5 575.0,393.8 573.8,395.0Z M555.0,403.8 558.8,403.1 560.0,407.5 557.5,413.8 555.6,408.8Z M581.2,410.0 583.1,410.0 581.2,416.2 580.0,415.6Z M573.8,437.5 575.6,437.5 575.0,443.8 571.2,445.0Z M540.0,400.0 546.2,400.6 551.2,402.5 547.5,403.1 542.5,402.5Z"/>
<path fill="#E22E33" d="M669.4,370.0 673.8,370.0 676.2,372.5 672.5,374.4 670.0,372.5Z M677.5,370.0 693.8,370.0 692.5,375.0 688.8,378.8 685.0,376.2 680.0,372.5Z M666.2,392.2 667.5,392.2 667.5,393.5 666.2,393.5Z M695.6,420.0 696.9,420.0 696.9,421.2 695.6,421.2Z"/>
</g>
<g clip-path="url(#t9)">
<rect x="700" y="370" width="160" height="90" fill="#F7992E"/>
<path fill="#E22E33" d="M795.0,370.0 845.0,370.0 848.8,372.5 853.8,374.4 855.6,377.5 853.1,382.5 851.2,386.2 853.8,390.0 857.5,393.8 860.0,396.2 860.0,460.0 856.2,460.0 855.0,455.0 847.5,451.2 846.2,457.5 845.0,460.0 827.5,460.0 825.0,455.0 820.0,451.2 815.0,450.0 810.0,451.2 806.2,448.8 802.5,450.0 798.8,452.5 796.2,456.2 795.0,460.0 792.5,457.5 796.2,452.5 801.2,448.8 806.2,445.0 810.0,441.2 815.0,440.0 812.5,436.2 807.5,437.5 803.8,435.0 800.0,432.5 797.5,428.8 787.5,428.8 785.0,432.5 782.5,430.0 780.0,428.1 777.5,425.0 775.0,422.5 777.5,417.5 781.2,413.8 785.0,410.0 783.8,406.2 786.2,402.5 791.2,401.2 796.2,402.5 800.0,397.5 805.0,395.0 810.0,392.5 807.5,388.8 802.5,391.2 798.8,388.8 796.2,385.0 798.8,380.0 796.2,375.0Z M780.0,373.8 785.0,371.2 790.0,373.8 793.8,377.5 795.0,382.5 792.5,386.2 787.5,388.8 782.5,390.0 780.0,386.2 781.2,381.2 778.8,377.5Z"/>
<path fill="#F7992E" d="M796.2,420.0 800.0,416.2 803.8,412.5 806.2,407.5 810.0,405.0 813.8,407.5 817.5,410.0 820.0,413.8 816.2,416.2 812.5,418.8 807.5,420.0 802.5,421.2 798.8,422.5Z M820.0,406.2 823.8,402.5 827.5,400.0 831.2,397.5 835.0,400.0 838.8,403.8 840.0,408.8 836.2,411.2 832.5,412.5 828.8,415.0 825.0,413.8 822.5,410.0Z M842.5,401.2 845.6,400.6 846.2,403.8 843.8,405.0Z M852.5,418.8 856.2,416.2 860.0,415.0 860.0,422.5 855.0,422.5Z M836.2,373.8 840.0,372.5 841.2,377.5 837.5,378.8Z M847.5,380.0 850.0,378.8 851.2,382.5 848.8,383.8Z M847.5,451.2 852.5,450.0 856.2,452.5 855.0,457.5 850.0,458.8Z M810.0,440.0 815.0,438.8 818.8,442.5 823.8,445.0 826.2,450.0 822.5,451.2 817.5,448.8 812.5,446.2Z"/>
<path fill="#E22E33" d="M735.6,388.8 740.0,388.1 745.0,388.8 747.5,392.5 746.2,397.5 742.5,398.1 738.8,395.0 736.2,392.5Z M745.0,400.0 750.0,398.8 755.0,398.1 760.0,399.4 763.8,402.5 765.0,407.5 763.8,413.8 760.0,415.6 756.2,413.8 758.8,408.8 757.5,405.0 752.5,403.8 747.5,403.1Z M766.2,398.1 770.0,398.8 770.6,400.6 766.9,400.6Z M733.8,371.2 737.5,370.0 750.0,370.0 751.2,372.5 746.2,375.0 741.2,373.8 736.2,373.8Z M758.1,376.2 760.6,375.6 760.0,380.0 758.1,380.6Z M703.8,370.0 712.5,370.0 711.2,372.5 706.2,373.1Z M700.0,406.2 703.1,406.9 704.4,410.0 701.2,410.6Z M709.4,406.9 711.2,406.9 711.0,408.8 709.4,408.5Z M746.9,422.5 750.0,418.8 752.5,420.0 751.2,425.0 748.8,424.4Z M755.0,420.0 756.9,420.0 756.9,422.5 755.0,422.5Z M767.5,418.1 771.2,417.5 772.5,421.2 770.0,421.9Z M738.8,431.2 741.2,431.0 741.2,432.5 739.0,432.8Z M748.8,428.8 750.6,428.8 750.0,430.6Z M771.9,455.0 775.0,453.8 776.2,460.0 772.5,460.0Z M725.0,456.2 728.8,456.2 728.1,458.1Z M720.0,437.5 722.5,438.1 721.2,440.0Z M775.0,413.8 780.0,410.0 781.2,413.8 777.5,417.5 775.0,416.9Z M777.5,420.0 781.2,418.8 785.0,421.2 786.2,425.0 782.5,426.2 778.8,425.0Z"/>
<path fill="#F5F254" d="M790.0,438.8 796.2,438.1 797.5,442.5 793.8,444.4 790.6,443.1Z M700.0,453.8 701.2,453.8 701.2,456.9 700.0,456.9Z"/>
</g>
<g clip-path="url(#t10)">
<rect x="860" y="370" width="160" height="90" fill="#E22E33"/>
<path fill="#F7992E" d="M860.0,370.0 867.5,370.0 866.2,373.8 868.8,376.2 865.0,380.0 861.2,378.8 860.0,376.2Z M873.8,370.0 892.5,370.0 888.8,373.8 885.0,375.0 880.0,373.8 876.2,375.0Z M862.5,407.5 865.0,406.2 865.6,411.2 863.1,416.2 861.2,417.5Z M890.0,416.9 895.0,416.2 895.6,420.0 892.5,421.2 890.6,419.4Z M884.4,423.8 890.0,423.1 891.2,426.9 886.2,427.5Z M893.1,428.8 896.2,430.0 896.9,437.5 895.0,435.0Z M975.0,385.0 978.8,382.5 981.9,385.0 982.5,390.0 980.0,392.5 983.8,395.0 987.5,396.2 990.0,400.0 988.8,403.8 985.0,406.2 982.5,405.0 978.8,406.2 976.2,403.8 977.5,400.0 975.0,396.2 976.2,392.5 975.0,388.8Z M960.0,405.0 963.8,403.8 967.5,406.2 968.8,410.0 965.0,411.2 961.2,408.8Z M961.2,413.8 966.2,414.4 970.0,416.2 970.0,420.0 966.2,421.2 962.5,419.4 960.0,416.2Z M953.1,415.0 956.2,414.4 956.2,417.5 953.8,418.1Z M1001.2,396.2 1005.0,392.5 1010.0,393.8 1013.8,391.2 1020.0,388.8 1020.0,410.0 1015.0,409.4 1010.0,411.2 1006.2,410.0 1003.8,406.2 1001.2,401.2Z"/>
<path fill="#E22E33" d="M1010.0,401.2 1015.0,400.0 1017.5,403.8 1013.8,406.2 1010.6,405.0Z"/>
<path fill="#F7992E" d="M972.5,426.2 978.8,423.8 985.0,420.0 991.2,416.2 997.5,411.2 1002.5,406.2 1006.2,410.0 1010.0,411.2 1015.0,410.0 1020.0,411.2 1020.0,425.6 1008.8,426.0Z"/>
<path fill="#E22E33" d="M987.5,420.0 992.5,418.8 996.2,420.0 997.5,422.5 992.5,423.8 988.8,423.1Z"/>
<path fill="#F7992E" d="M991.2,430.0 997.5,428.8 1003.8,427.5 1007.5,428.8 1003.8,432.5 998.8,433.8 993.8,433.8Z M962.5,460.0 962.5,457.5 965.0,455.0 970.0,452.5 975.0,450.0 980.0,446.2 985.0,443.8 988.8,442.5 992.5,438.8 997.5,436.2 1002.5,435.0 1007.5,431.2 1008.8,426.2 1018.8,426.2 1017.5,430.0 1015.0,433.8 1010.0,440.0 1005.0,446.2 998.8,452.5 993.8,457.5 990.0,460.0Z"/>
<path fill="#F5F254" d="M983.8,448.8 987.5,447.5 990.0,451.2 988.8,455.0 985.0,453.8Z M996.2,443.8 1000.0,442.5 1001.2,446.2 997.5,447.5Z M1012.5,413.8 1016.2,412.5 1017.5,416.2 1014.4,417.5Z M988.8,457.5 992.5,456.9 993.8,460.0 988.8,460.0Z"/>
<path fill="#F7992E" d="M950.0,431.2 953.8,428.8 956.9,430.0 956.2,433.8 952.5,437.5 948.8,440.0 946.2,442.5 943.8,441.2 946.2,437.5 948.8,435.0Z M958.8,433.8 962.5,432.5 964.4,435.0 961.9,438.1 959.4,436.9Z M937.5,447.5 941.2,446.2 945.0,445.0 947.5,447.5 948.8,451.2 946.2,455.0 943.8,460.0 935.0,460.0 936.2,455.0 935.0,451.2Z M957.5,456.2 960.0,455.6 960.0,460.0 956.9,460.0Z"/>
<path fill="#7B0C7B" d="M881.9,391.2 885.6,390.6 887.5,393.1 885.0,394.4 882.5,393.8Z M954.4,391.9 960.0,391.5 960.6,393.8 957.5,395.0 955.0,393.8Z M977.5,415.0 981.2,413.8 983.1,416.2 981.2,420.0 978.8,421.9 976.2,421.2 977.5,418.1Z M974.4,433.1 977.5,431.9 978.8,433.8 976.9,436.2 974.4,435.6Z M972.5,442.5 975.6,441.9 976.2,445.0 973.1,445.6Z M947.5,430.0 950.0,429.8 950.0,431.9 948.1,431.9Z M948.8,420.6 951.2,420.6 951.2,422.5 949.0,422.5Z M1007.5,450.0 1011.2,446.2 1016.2,445.0 1020.0,442.5 1020.0,460.0 1005.0,460.0 1006.2,456.2Z"/>
</g>
<g clip-path="url(#t11)">
<rect x="1020" y="370" width="160" height="90" fill="#E22E33"/>
<path fill="#F7992E" d="M1020.0,370.0 1063.8,370.0 1061.2,373.8 1057.5,376.2 1055.0,380.0 1051.2,383.8 1046.2,381.2 1045.0,385.0 1042.5,390.0 1038.8,395.0 1035.0,400.0 1033.8,403.8 1030.0,406.2 1025.0,407.5 1020.0,410.0Z M1046.2,381.2 1051.2,383.8 1055.0,380.0 1057.5,376.2 1061.2,373.8 1065.0,370.0 1075.0,370.0 1073.8,375.0 1071.2,378.8 1070.0,383.8 1066.2,386.2 1062.5,388.8 1058.8,390.0 1056.2,393.8 1052.5,395.0 1048.8,393.8 1045.0,395.0 1041.2,397.5 1038.8,395.0 1042.5,390.0 1045.0,385.0Z M1020.0,411.2 1025.0,410.0 1030.0,408.8 1035.0,411.2 1038.8,413.8 1036.2,417.5 1032.5,420.0 1027.5,422.5 1022.5,425.0 1020.0,425.6Z"/>
<path fill="#E22E33" d="M1020.0,387.5 1023.8,386.2 1027.5,388.8 1025.0,392.5 1021.2,393.8 1020.0,392.5Z M1022.5,400.0 1027.5,398.8 1030.0,401.2 1026.2,403.8 1022.5,403.1Z"/>
<path fill="#F7992E" d="M1087.5,382.5 1090.0,377.5 1092.5,373.8 1095.0,370.0 1130.0,370.0 1130.6,376.2 1129.4,382.5 1127.5,387.5 1125.0,392.5 1122.5,397.5 1120.0,402.5 1117.5,407.5 1115.6,411.2 1113.1,413.1 1111.9,408.8 1114.4,403.8 1116.2,398.8 1114.4,395.0 1112.5,391.2 1107.5,390.0 1102.5,387.5 1097.5,386.2 1092.5,385.0Z M1086.2,391.2 1090.0,390.0 1093.8,392.5 1097.5,396.2 1101.2,400.0 1105.0,402.5 1107.5,406.2 1105.0,407.5 1101.2,406.2 1097.5,405.0 1093.8,402.5 1091.2,398.8 1087.5,395.0Z M1083.8,376.2 1086.2,375.6 1086.9,378.8 1084.4,379.4Z M1081.2,428.8 1086.2,428.1 1086.9,430.6 1082.5,431.9Z"/>
<path fill="#F5F254" d="M1044.4,376.9 1048.1,376.2 1048.8,378.8 1045.0,379.8Z"/>
<path fill="#7B0C7B" d="M1038.8,416.2 1042.5,412.5 1045.0,407.5 1043.8,403.8 1046.2,402.5 1048.8,406.2 1051.2,410.0 1055.0,413.8 1056.2,418.8 1053.8,421.2 1050.0,422.5 1046.2,421.2 1042.5,420.0Z M1020.0,440.0 1025.0,437.5 1030.0,435.0 1033.8,432.5 1038.8,433.8 1042.5,437.5 1045.0,441.2 1041.2,443.8 1038.8,447.5 1037.5,452.5 1040.0,457.5 1042.5,460.0 1020.0,460.0Z M1058.8,437.5 1062.5,435.0 1067.5,435.0 1068.8,440.0 1066.2,443.8 1062.5,445.0 1060.0,442.5Z M1062.5,450.0 1067.5,448.8 1072.5,451.2 1076.2,455.0 1078.8,460.0 1062.5,460.0 1061.2,455.0Z M1081.2,447.5 1085.0,446.2 1090.0,447.5 1092.5,445.0 1096.2,443.8 1097.5,446.2 1093.8,450.0 1090.0,452.5 1086.2,451.2 1082.5,450.0Z M1082.5,456.2 1087.5,455.0 1090.0,457.5 1088.8,460.0 1082.5,460.0Z"/>
</g>
<g clip-path="url(#t12)">
<rect x="540" y="460" width="160" height="90" fill="#F5F254"/>
<path fill="#F7992E" d="M676.9,460.0 700.0,460.0 700.0,480.0 696.2,480.0 691.2,478.8 688.8,475.0 685.0,475.6 680.0,473.8 676.9,471.2Z M646.2,463.8 650.0,463.1 653.8,466.2 652.5,468.8 656.2,470.0 660.0,472.5 665.0,469.4 668.8,468.1 672.5,471.2 676.2,472.5 680.0,474.4 685.0,476.2 690.0,475.6 692.5,479.4 700.0,481.2 700.0,491.2 696.2,492.5 691.2,491.9 688.8,494.4 691.2,498.8 695.0,501.2 700.0,500.0 700.0,515.0 695.0,516.2 690.0,518.8 685.0,520.0 680.0,521.2 675.0,520.0 670.0,518.8 666.2,516.2 662.5,518.8 658.8,521.2 655.0,520.0 652.5,516.2 656.2,512.5 660.0,508.8 657.5,506.2 652.5,506.9 648.8,508.8 646.2,506.2 642.5,502.5 638.8,500.0 637.5,496.2 640.0,492.5 638.8,488.8 642.5,486.2 646.2,485.0 650.0,483.8 652.5,480.0 651.2,476.2 653.8,473.8 650.0,468.8Z"/>
<path fill="#F5F254" d="M660.0,476.2 663.8,473.8 666.2,476.2 665.0,480.0 666.2,483.8 670.0,482.5 675.0,483.8 677.5,487.5 677.5,492.5 673.8,496.2 670.0,498.8 666.2,501.2 663.8,503.8 660.0,502.5 656.2,501.2 652.5,497.5 650.0,495.0 652.5,491.2 656.2,492.5 658.8,488.8 657.5,485.0 655.0,481.2 657.5,478.8Z M643.8,490.0 647.5,489.4 648.8,493.8 646.2,497.5 643.8,495.0Z"/>
<path fill="#F7992E" d="M632.5,522.5 635.0,518.8 638.8,515.0 642.5,513.1 645.0,516.2 643.8,520.0 640.0,522.5 636.2,523.8Z M647.5,518.8 650.0,515.0 652.5,517.5 651.2,521.2 648.8,522.5Z M640.0,550.0 641.2,545.0 642.5,540.0 643.8,535.0 645.0,530.0 648.8,527.5 653.8,526.2 658.8,526.2 662.5,528.8 666.2,531.2 668.8,535.0 665.0,536.2 661.2,535.0 657.5,537.5 655.0,541.2 656.2,546.2 660.0,550.0Z M631.2,541.2 633.8,540.0 635.0,545.0 637.5,550.0 632.5,550.0Z"/>
<path fill="#F5F254" d="M648.8,531.2 653.8,530.0 657.5,532.5 655.0,536.2 651.2,537.5 647.5,535.0Z"/>
<path fill="#F7992E" d="M552.5,460.0 561.2,460.0 560.0,463.8 556.2,465.0 553.8,463.8Z M540.0,462.5 543.8,461.2 545.0,465.0 542.5,467.5 540.0,467.5Z M547.5,473.8 550.0,473.1 551.2,477.5 548.8,478.8Z M550.0,481.2 552.5,481.2 551.9,483.8 550.0,483.8Z M555.0,503.8 557.5,506.2 558.8,511.2 560.6,515.0 558.8,518.8 557.5,522.5 555.0,521.2 556.2,516.2 555.6,510.0Z M540.0,520.6 543.8,520.0 546.2,523.8 547.5,528.8 545.0,531.2 540.0,531.2Z M583.8,518.8 585.6,520.0 586.9,526.2 587.5,531.2 585.0,530.6 584.4,525.0Z M590.0,521.9 593.8,521.2 594.4,524.4 591.2,525.0Z M596.9,521.2 600.0,520.6 599.4,523.1 597.2,523.5Z M604.4,512.5 606.9,512.5 608.8,517.5 606.9,521.2 604.4,522.5 605.6,517.5Z M545.0,516.9 546.9,516.9 546.2,519.4Z M556.2,528.1 561.2,530.0 565.0,533.8 568.8,538.1 573.8,543.8 577.5,548.8 576.2,550.0 572.5,546.2 567.5,541.2 562.5,538.1 560.0,533.8 556.2,530.6Z"/>
<path fill="url(#spk)" d="M569.4,495.6 571.9,495.6 571.9,498.1 569.6,498.1Z M570.0,507.5 572.8,507.2 573.8,511.2 570.6,511.9Z"/>
</g>
<g clip-path="url(#t13)">
<rect x="700" y="460" width="160" height="90" fill="#F7992E"/>
<path fill="#F5F254" d="M753.8,472.5 758.8,470.6 765.0,470.0 771.2,470.6 773.8,473.8 771.2,477.5 767.5,478.8 765.0,481.2 761.2,480.0 758.8,476.2 755.0,475.0Z M803.8,478.8 807.5,476.9 812.5,478.1 815.0,482.5 813.8,487.5 817.5,490.0 815.0,492.5 811.2,490.0 807.5,487.5 805.0,485.0 802.5,481.2Z M796.2,483.8 798.8,484.4 800.0,487.5 797.5,486.9Z M742.5,498.8 745.0,496.2 747.5,500.0 751.2,498.8 755.0,497.5 757.5,500.0 753.8,503.8 750.0,505.0 746.2,503.8 742.5,505.6Z M765.0,507.5 768.8,503.8 772.5,505.0 775.0,508.8 777.5,511.2 775.0,515.0 772.5,518.8 768.8,520.0 766.2,523.8 763.8,527.5 761.2,530.0 760.0,526.2 762.5,522.5 765.0,518.8 766.2,515.0 764.4,511.2Z M700.0,496.2 703.8,496.2 706.2,501.2 710.0,503.8 712.5,510.0 711.2,515.0 712.5,520.0 707.5,521.2 703.8,520.0 700.0,518.8Z M700.0,522.5 705.0,525.0 707.5,530.0 703.8,535.0 706.2,540.0 711.2,542.5 713.8,547.5 716.2,550.0 700.0,550.0Z M712.5,525.0 717.5,523.8 721.2,527.5 720.0,532.5 716.2,533.8 713.8,530.0Z M725.0,545.0 727.5,540.0 730.0,535.0 733.8,531.2 738.8,532.5 743.8,531.2 748.8,530.0 753.8,527.5 756.2,523.8 758.8,526.2 760.0,531.2 761.2,536.2 758.8,540.0 755.0,541.2 751.2,545.0 747.5,547.5 743.8,550.0 725.0,550.0Z M768.8,533.8 772.5,530.0 776.2,526.2 780.0,522.5 783.8,523.8 786.2,530.0 788.8,535.0 791.2,540.0 793.1,545.0 793.1,550.0 777.5,550.0 780.0,546.2 776.2,542.5 772.5,540.0 770.0,537.5Z M750.0,515.0 753.8,514.4 755.0,517.5 751.2,520.0 750.0,518.1Z M731.2,513.1 733.8,512.5 734.4,516.2 731.9,516.9Z M725.0,516.2 727.5,515.6 728.8,520.0 726.2,520.6Z M798.8,512.5 801.2,511.9 801.9,515.0 799.4,515.6Z M805.0,521.2 808.8,520.6 809.4,523.1 805.6,523.8Z M715.0,475.0 717.5,474.4 717.5,478.8 715.2,478.8Z M761.9,460.6 763.8,460.6 763.8,462.5 761.9,462.5Z"/>
<path fill="#E22E33" d="M742.5,468.8 746.2,467.5 750.0,468.8 750.0,473.8 748.8,478.8 750.0,482.5 747.5,485.0 744.4,483.8 743.1,478.8 741.9,473.8Z M743.8,485.6 747.5,485.0 748.1,487.5 744.4,487.8Z M826.2,460.0 853.8,460.0 852.5,462.5 848.8,467.5 845.0,473.8 841.2,478.8 838.8,483.8 836.9,490.0 836.2,496.2 832.5,498.8 830.0,495.0 831.2,490.0 827.5,485.0 825.0,481.2 823.8,476.2 826.2,472.5 827.5,467.5 825.0,463.8Z"/>
<path fill="#F7992E" d="M830.0,471.2 832.5,470.0 835.0,475.0 833.8,478.8 831.2,477.5Z M840.0,465.0 843.8,463.8 846.2,466.2 843.8,471.2 840.6,470.0Z"/>
<path fill="#E22E33" d="M855.0,460.0 860.0,460.0 860.0,503.8 856.2,501.2 853.8,497.5 850.0,498.8 846.2,496.2 843.8,492.5 841.2,491.2 838.8,483.8 841.2,478.8 845.0,473.8 848.8,467.5 852.5,462.5Z"/>
<path fill="#F7992E" d="M841.2,482.5 845.0,480.6 848.8,483.8 850.0,487.5 847.5,491.2 843.8,491.9 840.6,488.8Z M855.0,471.2 858.8,470.0 860.0,477.5 856.2,478.8Z"/>
<path fill="#E22E33" d="M856.2,520.0 860.0,518.8 860.0,537.5 857.5,535.0 855.0,527.5Z M838.8,510.0 843.8,507.5 846.2,510.0 845.0,515.0 841.2,517.5 838.8,515.0Z M813.8,513.8 817.5,512.5 820.0,516.2 823.8,515.0 826.2,517.5 823.8,520.0 825.0,523.8 826.2,527.5 823.8,531.2 820.0,528.8 817.5,525.0 815.0,521.2 813.8,517.5Z M830.0,525.0 833.8,522.5 836.2,523.8 833.8,528.8 831.2,535.0 828.8,540.0 826.2,538.8 828.8,532.5Z M836.2,540.0 838.8,539.4 838.8,542.5 836.2,543.1Z M785.0,495.0 787.5,493.8 790.0,497.5 793.8,498.8 797.5,500.0 800.0,502.5 796.2,503.8 792.5,504.4 788.8,502.5 785.0,501.2 781.2,500.0 781.9,497.5Z M805.0,497.5 808.8,496.9 811.2,500.0 807.5,501.2 805.6,500.0Z M791.2,468.8 795.0,469.4 797.5,472.5 800.0,471.2 801.2,475.0 798.8,478.8 796.2,476.2 792.5,472.5Z M762.5,496.2 765.0,496.0 765.0,497.5 762.5,497.8Z M767.5,495.6 770.0,495.4 769.8,497.5 767.5,497.8Z M778.8,460.0 785.0,460.0 786.2,461.9 781.2,462.5Z M803.8,507.5 805.6,507.5 805.6,509.4 803.8,509.4Z"/>
</g>
<g clip-path="url(#t14)">
<rect x="860" y="460" width="160" height="90" fill="#E22E33"/>
<path fill="#F7992E" d="M860.0,471.2 863.8,470.6 867.5,471.9 865.0,476.2 861.2,478.8 860.0,480.0Z M868.8,498.8 872.5,496.2 876.2,500.0 880.0,501.2 883.8,497.5 885.0,492.5 887.5,491.2 886.9,496.2 886.2,501.2 883.8,506.2 881.2,510.0 878.8,515.0 876.2,512.5 877.5,507.5 875.0,503.8 871.2,502.5Z M881.2,491.2 884.4,490.6 885.0,493.8 881.9,495.0Z M888.8,510.0 892.5,506.2 897.5,503.8 901.2,506.2 905.0,507.5 903.8,512.5 906.2,517.5 907.5,522.5 903.8,526.2 900.0,530.0 896.2,528.8 892.5,526.2 888.8,525.0 885.0,523.8 882.5,521.2 883.8,516.2 886.2,513.8Z M870.0,532.5 875.0,531.2 876.9,535.0 873.8,537.5 870.6,536.2Z M860.0,527.5 863.8,530.0 865.0,536.2 863.8,542.5 866.2,547.5 863.8,550.0 860.0,550.0Z M893.8,545.0 897.5,544.4 898.1,548.8 894.4,549.4Z M886.2,538.8 890.0,539.4 888.8,542.5Z M892.5,472.5 896.2,471.9 897.5,475.0 902.5,474.4 903.8,478.8 900.0,479.4 896.2,477.5 893.1,475.6Z M916.2,480.0 920.0,477.5 923.8,476.2 926.2,480.0 925.0,483.8 927.5,487.5 925.0,491.2 921.2,493.8 918.8,497.5 915.0,498.8 916.2,493.8 918.8,490.0 920.0,485.0 917.5,482.5Z M922.5,518.8 926.2,517.5 930.0,520.0 935.0,519.4 938.8,522.5 941.2,525.0 938.8,528.8 935.0,529.4 932.5,526.2 928.8,523.8 923.8,522.5Z M927.5,463.8 935.0,463.1 937.5,466.2 936.2,471.2 933.8,471.9 931.2,467.5 928.1,466.2Z M955.0,463.8 958.8,463.1 961.2,465.0 963.8,463.8 970.0,462.5 975.0,463.1 972.5,467.5 967.5,470.0 963.8,472.5 961.2,471.2 960.0,467.5 956.2,466.9Z M961.2,460.0 985.0,460.0 985.0,461.9 961.2,461.9Z M912.5,468.1 915.0,468.8 914.4,470.6 912.5,470.0Z M906.2,465.0 908.8,465.6 908.1,467.5Z"/>
<path fill="#7B0C7B" d="M990.0,460.0 1020.0,460.0 1020.0,473.8 1016.2,471.2 1012.5,468.8 1007.5,467.5 1002.5,468.8 997.5,470.0 993.8,467.5 991.2,463.8Z M971.2,476.2 975.0,473.8 980.0,473.1 983.8,475.0 986.2,478.8 990.0,482.5 992.5,486.2 996.2,490.0 993.8,491.2 990.0,488.8 986.2,486.2 982.5,482.5 978.8,480.0 975.0,478.8Z M987.5,497.5 991.2,496.2 995.0,493.8 998.8,491.2 1001.2,492.5 998.8,496.2 996.2,498.8 992.5,501.2 988.8,502.5Z M1002.5,490.0 1006.2,489.4 1008.8,492.5 1006.2,495.0 1003.1,493.8Z M962.5,483.1 966.2,482.5 968.8,484.4 966.9,487.5 963.8,486.9Z M955.6,490.6 957.5,490.4 957.5,492.5 955.6,492.5Z M978.8,496.2 981.2,496.0 981.0,498.8 978.8,499.0Z M980.0,542.5 983.8,537.5 985.0,531.2 990.0,528.8 993.8,526.2 998.8,525.0 1002.5,521.2 1005.0,516.2 1007.5,517.5 1006.2,522.5 1008.8,527.5 1012.5,530.0 1016.2,532.5 1017.5,535.0 1015.0,540.0 1012.5,545.0 1011.2,550.0 982.5,550.0Z"/>
<path fill="#E22E33" d="M997.5,541.2 1001.2,540.0 1002.5,543.8 998.8,545.0Z"/>
<path fill="#7B0C7B" d="M1015.0,520.0 1017.5,519.4 1018.1,522.5 1015.6,523.1Z"/>
</g>
<g clip-path="url(#t15)">
<rect x="1020" y="460" width="160" height="90" fill="#E22E33"/>
<path fill="#7B0C7B" d="M1020.0,460.0 1076.2,460.0 1075.0,463.8 1077.5,467.5 1082.5,466.2 1085.0,462.5 1087.5,460.0 1095.0,460.0 1092.5,463.8 1087.5,467.5 1085.0,471.2 1081.2,476.2 1077.5,481.2 1075.0,485.0 1070.0,485.6 1063.8,487.5 1060.0,491.2 1056.2,492.5 1052.5,495.0 1050.0,492.5 1052.5,488.8 1051.2,485.0 1047.5,483.8 1045.0,480.0 1041.2,478.8 1042.5,483.8 1045.0,488.8 1042.5,492.5 1037.5,493.8 1033.8,491.2 1035.0,485.0 1033.8,480.0 1030.0,478.8 1025.0,476.2 1020.0,475.0Z"/>
<path fill="#E22E33" d="M1076.2,463.8 1080.0,460.0 1086.2,460.0 1085.0,465.0 1081.2,468.8 1077.5,470.0Z M1041.2,485.0 1045.0,482.5 1048.8,483.8 1051.2,486.2 1050.0,490.0 1046.2,491.2 1042.5,490.0Z"/>
<path fill="#7B0C7B" d="M1031.2,497.5 1035.0,496.2 1038.8,498.8 1037.5,502.5 1033.8,503.1Z M1035.0,507.5 1037.5,506.9 1038.1,508.8 1035.6,509.4Z M1020.0,521.2 1022.5,520.0 1023.1,525.0 1020.0,527.5Z"/>
<path fill="#F7992E" d="M1034.4,495.0 1037.5,494.4 1038.1,496.2 1035.0,496.9Z"/>
</g>
<g clip-path="url(#t16)">
<rect x="860" y="190" width="160" height="90" fill="#F7992E"/>
<path fill="#E22E33" d="M860.0,203.8 865.0,205.0 870.0,208.8 875.0,211.2 881.2,213.8 885.0,210.0 888.8,205.0 892.5,198.8 896.2,197.5 898.8,202.5 900.0,208.8 898.8,215.0 901.2,219.4 898.8,221.2 893.8,222.5 890.0,227.5 888.8,232.5 892.5,233.8 896.2,235.0 898.8,232.5 903.8,228.8 902.5,232.5 900.0,237.5 896.2,241.2 891.2,243.8 887.5,246.2 885.0,250.0 888.8,252.5 892.5,255.0 893.8,260.0 896.2,263.8 895.0,268.8 892.5,272.5 890.0,276.2 888.8,280.0 860.0,280.0Z"/>
<path fill="#F7992E" d="M870.0,251.2 873.8,248.1 876.2,251.2 878.8,255.0 882.5,257.5 881.2,260.0 877.5,260.0 873.8,257.5 870.6,255.0Z M876.2,263.8 878.8,261.9 881.2,265.0 883.8,270.0 886.2,275.0 883.8,277.5 880.0,273.8 877.5,268.8Z M862.5,207.5 865.0,208.1 864.4,210.6 862.5,210.0Z M888.8,220.0 891.2,219.4 891.0,221.9 889.0,222.2Z"/>
<path fill="#E22E33" d="M925.6,253.8 928.1,253.1 928.1,256.2 925.9,256.5Z M928.1,261.9 930.6,261.6 930.6,264.4 928.4,264.6Z M935.6,273.8 938.8,273.1 939.4,276.2 936.2,277.5Z"/>
<path fill="#F5F254" d="M931.2,190.0 963.8,190.0 966.2,193.8 970.0,195.6 975.0,195.6 977.5,198.1 972.5,199.4 967.5,197.5 962.5,198.1 957.5,198.8 953.8,197.5 950.0,195.0 946.2,196.2 941.2,195.0 937.5,193.8 933.8,195.0 931.9,192.5Z M915.0,190.0 920.0,190.0 920.6,192.5 915.6,193.1Z M955.0,208.8 960.0,210.0 959.4,212.5 955.6,211.9Z M946.2,215.6 948.8,215.6 948.8,217.5 946.2,217.5Z M940.0,248.8 942.5,249.4 941.9,251.2 940.0,250.6Z M942.5,242.5 944.4,242.5 944.4,244.4 942.5,244.4Z M978.1,275.6 980.6,275.6 980.6,277.5 978.1,277.5Z"/>
</g>
<g clip-path="url(#t17)">
<rect x="860" y="100" width="160" height="90" fill="#F7992E"/>
<path fill="#F5F254" d="M886.2,162.5 891.2,159.4 901.2,160.0 895.0,162.5 890.0,167.5 886.2,168.8Z M927.5,182.5 935.0,181.2 947.5,178.1 948.8,183.8 958.8,185.6 963.8,185.0 965.0,190.0 927.5,190.0Z M893.8,178.8 895.6,178.1 897.5,182.5 896.2,183.8Z M860.0,137.5 867.5,144.4 860.0,150.0Z M870.0,137.5 888.8,137.5 888.8,150.0 870.0,150.0Z"/>
<path fill="#E22E33" d="M861.2,176.9 865.0,176.2 871.2,175.6 870.0,180.0 876.2,180.0 878.8,185.0 872.5,188.1 869.4,183.8 865.0,178.8Z"/>
</g>
<g clip-path="url(#t18)">
<rect x="1020" y="190" width="160" height="90" fill="#F5F254"/>
<path fill="#F7992E" d="M1056.9,270.0 1057.5,267.5 1062.5,265.6 1070.0,264.8 1077.5,265.0 1082.5,266.2 1085.0,268.1 1090.0,267.5 1095.0,267.2 1100.0,265.0 1103.8,262.5 1107.5,261.2 1109.4,258.8 1108.8,263.8 1106.2,267.5 1102.5,270.0 1106.2,272.5 1107.5,276.2 1105.0,280.0 1090.0,280.0 1093.8,276.2 1097.5,273.8 1095.0,271.2 1090.0,270.0 1085.0,271.2 1080.0,270.0 1075.0,268.8 1070.0,269.4 1065.0,270.0 1062.5,273.8 1060.0,280.0 1055.0,280.0 1055.0,270.0Z M1020.0,190.0 1055.0,190.0 1055.0,280.0 1020.0,280.0Z M1125.0,238.1 1128.8,235.0 1133.8,231.9 1135.0,233.1 1130.0,236.9 1126.2,239.4Z M1112.5,252.5 1116.2,251.9 1115.0,255.0 1113.1,256.2Z M1155.6,260.0 1158.8,258.1 1158.1,260.6 1156.2,261.9Z M1158.8,271.2 1162.5,270.0 1162.5,272.5 1159.4,273.1Z M1072.5,272.5 1077.5,271.9 1078.8,275.0 1075.0,276.2Z M1173.8,275.0 1175.6,275.0 1175.6,280.0 1173.8,280.0Z"/>
<path fill="url(#spk)" d="M1149.4,245.0 1152.5,243.8 1152.5,245.6 1150.0,246.2Z"/>
</g>
<g clip-path="url(#t19)">
<rect x="540" y="550" width="160" height="90" fill="#F5F254"/>
<path fill="#F7992E" d="M700.0,567.5 695.0,568.8 691.2,567.5 688.8,571.2 683.8,573.1 677.5,571.2 672.5,573.8 673.8,577.5 677.5,580.0 681.2,583.8 683.8,587.5 685.0,591.2 681.2,593.8 677.5,595.0 674.4,597.5 676.2,601.2 672.5,605.0 675.0,610.0 677.5,613.8 680.0,617.5 683.8,620.0 685.0,623.8 686.2,628.8 688.8,633.8 690.6,637.5 691.2,640.0 700.0,640.0Z"/>
<path fill="#F5F254" d="M689.4,582.5 693.8,580.0 696.2,582.5 695.0,586.2 691.2,586.2Z M695.0,630.0 696.9,630.0 697.5,636.2 695.6,636.2Z M697.5,586.2 700.0,585.0 700.0,591.2 698.1,590.0Z"/>
<path fill="#F7992E" d="M640.0,550.0 651.2,550.0 650.0,553.8 647.5,556.2 643.8,555.0 641.2,552.5Z M667.5,571.2 670.0,570.6 670.6,575.0 668.1,576.2Z M655.6,576.9 658.8,576.2 660.6,580.0 663.1,585.0 660.0,583.8 657.5,580.6Z M609.4,580.0 612.5,579.4 615.0,582.5 616.2,586.2 613.8,587.5 610.6,584.4Z M618.8,575.0 622.5,574.4 623.8,578.1 621.2,580.0 619.4,578.1Z M615.0,586.2 620.0,585.0 621.9,586.9 618.1,590.0 615.6,589.4Z M592.5,568.8 596.2,572.5 600.0,576.2 603.8,580.0 605.0,582.5 601.2,581.9 597.5,579.4 593.8,575.0 591.2,571.2Z M631.2,570.6 636.2,569.4 636.9,573.1 633.1,573.1Z M577.5,550.0 583.8,550.0 583.1,551.9 578.8,551.2Z M589.4,561.2 592.5,563.8 593.1,566.2 590.6,565.6Z M611.2,576.2 613.8,575.6 613.8,577.5 611.5,577.8Z"/>
<path fill="#E22E33" d="M691.2,605.0 694.4,603.8 695.0,601.2 698.1,601.2 697.5,605.0 698.8,608.8 696.2,612.5 694.4,613.1 693.1,608.8Z"/>
</g>
<g clip-path="url(#t20)">
<rect x="700" y="550" width="160" height="90" fill="#F7992E"/>
<path fill="#F5F254" d="M700.0,550.0 716.2,550.0 712.5,553.8 708.8,556.2 706.2,560.0 702.5,561.2 700.0,560.0Z M730.0,550.0 737.5,550.0 738.8,553.8 736.2,556.2 733.8,560.0 736.2,563.8 737.5,568.8 735.0,571.2 733.8,566.2 730.0,565.0 727.5,562.5 726.9,557.5 728.8,553.8Z M705.0,570.0 710.0,567.5 715.0,568.8 716.2,572.5 712.5,574.4 707.5,573.8Z M700.0,583.8 705.0,583.8 707.5,586.9 706.2,590.0 702.5,591.9 700.0,591.9Z M725.0,591.2 728.8,586.2 732.5,580.0 735.0,580.6 736.2,585.0 737.5,587.5 733.8,590.0 730.0,593.8 726.2,595.6 723.8,593.8Z M751.2,581.2 755.0,577.5 760.0,578.1 761.9,581.9 760.0,586.2 756.2,588.8 752.5,586.2Z M761.2,558.8 766.2,557.5 771.2,559.4 773.8,563.8 777.5,566.2 782.5,564.4 787.5,563.1 788.1,567.5 785.0,570.6 780.0,571.2 775.0,569.4 770.0,569.4 765.0,568.1 762.5,563.8Z M751.2,560.6 755.0,558.8 756.2,561.9 752.5,563.8Z M772.5,550.0 780.0,550.0 781.2,553.8 777.5,556.9 773.8,553.8Z M718.8,605.0 723.8,601.2 726.2,600.6 725.0,603.8 720.0,607.5 717.5,608.1Z M708.8,621.2 712.5,622.5 716.2,623.8 716.2,626.2 712.5,625.6 709.4,623.8Z M741.2,573.1 743.8,572.5 745.0,577.5 742.5,579.4 740.6,576.2Z M795.0,556.2 797.5,555.6 796.9,560.0 800.0,561.2 802.5,559.4 803.8,562.5 800.0,565.0 796.2,563.8 793.8,561.2Z M810.0,552.5 815.0,550.0 818.8,550.0 817.5,553.8 813.8,556.2 810.6,556.2Z M820.6,563.8 823.1,563.1 823.8,567.5 821.2,569.4Z M801.2,566.9 803.8,566.2 804.4,569.4 801.5,569.8Z M837.5,550.0 841.2,550.0 840.6,553.8 837.5,553.1Z M843.8,571.2 846.2,571.0 846.2,573.1 843.8,573.1Z M787.5,550.0 792.5,550.0 791.2,552.5 788.8,552.5Z"/>
<path fill="#E22E33" d="M842.5,553.8 846.2,553.1 850.0,556.2 851.9,560.0 850.0,563.8 846.2,566.2 842.5,565.0 841.2,561.2 843.1,557.5Z M850.0,550.0 860.0,550.0 860.0,555.0 856.2,553.8 852.5,553.8Z M818.8,551.9 821.9,551.9 821.9,555.0 818.8,554.8Z M836.2,561.2 838.8,561.0 838.5,563.8 836.2,563.5Z M700.0,601.2 701.9,601.9 702.5,606.2 701.2,608.8 700.0,608.8Z M745.0,590.2 747.5,590.2 747.5,592.0 745.0,592.0Z M838.8,578.1 841.2,577.8 841.0,579.4 839.0,579.6Z"/>
</g>
<g clip-path="url(#t21)">
<rect x="860" y="550" width="160" height="90" fill="#E22E33"/>
<path fill="#F7992E" d="M860.0,550.0 870.0,550.0 872.5,553.8 876.2,556.2 881.2,555.0 885.0,557.5 886.2,562.5 876.2,561.9 870.0,562.5 865.0,563.8 860.0,566.2Z M887.5,550.0 892.5,550.0 891.2,556.2 892.5,563.1 888.8,563.8 886.9,562.5Z M896.2,552.5 900.0,551.2 903.8,553.8 905.0,557.5 906.2,561.9 901.2,562.5 896.9,562.5Z M860.0,566.2 867.5,566.2 876.2,575.0 876.2,592.5 860.0,592.5Z"/>
<path fill="#E22E33" d="M870.0,550.0 885.0,550.0 883.8,553.8 880.0,556.2 876.2,555.0 872.5,552.5Z"/>
<path fill="#F7992E" d="M992.5,605.0 997.5,603.8 1002.5,605.0 1007.5,603.8 1012.5,605.0 1017.5,608.8 1020.0,610.0 1020.0,640.0 1000.0,640.0 997.5,635.0 995.0,630.0 993.1,625.0 991.2,621.2 990.0,617.5 991.2,612.5Z"/>
<path fill="#E22E33" d="M992.5,605.0 998.8,606.2 1001.2,610.0 998.8,615.0 997.5,620.0 995.0,625.0 992.5,622.5 990.6,617.5Z M1002.5,617.5 1006.2,616.2 1010.0,620.0 1011.2,625.0 1007.5,627.5 1003.8,625.0Z M1011.2,631.2 1015.0,630.6 1015.6,635.0 1012.5,635.6Z"/>
<path fill="#F5F254" d="M1014.4,618.8 1017.5,618.5 1017.8,623.1 1015.0,623.8Z M1016.2,637.5 1020.0,636.2 1020.0,640.0 1016.2,640.0Z"/>
<path fill="#7B0C7B" d="M982.5,550.0 1002.5,550.0 1001.2,553.8 1003.8,555.0 1002.5,558.8 997.5,557.5 992.5,558.8 987.5,558.1 983.8,555.0Z M1003.8,550.0 1013.8,550.0 1013.8,557.5 1011.2,562.5 1007.5,561.2 1005.0,557.5Z M980.0,570.0 985.0,568.8 990.0,570.6 990.6,573.1 985.0,573.8 980.6,573.1Z M994.4,571.9 998.8,570.6 1003.8,568.8 1007.5,566.2 1010.0,570.0 1008.8,575.0 1005.0,576.9 1001.2,577.5 1000.0,581.2 997.5,583.8 996.9,580.0 995.0,576.2Z M1012.5,572.5 1015.0,571.9 1015.6,578.8 1013.1,579.4Z M992.5,561.9 994.4,561.9 994.4,563.8 992.5,563.8Z M1011.9,594.4 1015.0,593.8 1015.2,596.2 1012.2,596.9Z"/>
</g>
<g clip-path="url(#t22)">
<rect x="980" y="540" width="160" height="90" fill="#E22E33"/>
<path fill="#7B0C7B" d="M980.0,540.0 1012.5,540.0 1011.2,545.0 1010.0,551.2 1007.5,553.8 1003.8,556.2 998.8,556.9 992.5,557.5 987.5,558.1 982.5,556.2 980.0,555.0Z M1003.8,556.2 1008.8,555.0 1011.2,558.8 1010.0,562.5 1006.2,561.2Z M980.0,570.0 985.0,568.8 990.0,570.6 988.8,573.1 983.8,573.8 980.0,573.1Z M995.0,572.5 1000.0,570.0 1005.0,567.5 1008.8,565.0 1011.2,570.0 1010.0,575.0 1006.2,577.5 1002.5,578.8 1000.0,582.5 997.5,583.8 996.9,578.8 995.0,576.2Z M1011.2,572.5 1013.8,571.9 1015.0,577.5 1012.5,578.8Z M1008.8,595.0 1013.8,594.4 1014.4,596.9 1009.4,597.5Z"/>
<path fill="#F7992E" d="M990.0,607.5 996.2,605.0 1001.2,603.8 1006.2,605.0 1012.5,607.5 1017.5,610.0 1022.5,611.2 1027.5,610.0 1030.0,611.2 1032.5,617.5 1035.0,623.8 1037.5,630.0 992.5,630.0 991.2,625.0 993.8,620.0 992.5,615.0 990.0,611.2Z"/>
<path fill="#E22E33" d="M998.8,616.2 1002.5,615.0 1006.2,617.5 1008.8,621.2 1007.5,626.2 1003.8,627.5 1000.0,625.0 997.5,621.2Z"/>
<path fill="#F5F254" d="M1021.2,620.0 1025.0,616.2 1028.8,617.5 1031.2,622.5 1033.8,627.5 1035.0,630.0 1023.8,630.0 1022.5,625.0Z"/>
</g>
<g clip-path="url(#t23)">
<rect x="940" y="600" width="160" height="90" fill="#F7992E"/>
<path fill="#E22E33" d="M990.0,605.0 1006.2,605.0 1007.5,600.0 1026.2,600.0 1027.5,603.8 1029.4,608.8 1027.5,611.2 1023.8,610.0 1020.0,607.5 1016.2,608.8 1012.5,606.2 1008.8,605.0 1005.0,607.5 1001.2,608.8 998.8,612.5 997.5,617.5 998.8,622.5 1001.2,626.2 998.8,627.5 995.0,625.0 992.5,621.2 990.0,616.2 988.1,610.0Z M977.5,600.0 1007.5,600.0 1006.2,605.0 990.0,605.0 987.5,610.0 977.5,610.0Z M1002.5,617.5 1006.2,618.8 1010.0,621.2 1011.9,625.0 1008.8,627.5 1005.0,626.2 1002.5,622.5Z M1008.8,647.5 1012.5,648.1 1014.4,651.2 1011.2,652.5 1008.8,650.0Z M1012.5,631.2 1015.0,631.0 1015.0,634.4 1012.5,634.8Z M1032.5,652.5 1035.6,651.2 1035.0,656.2 1032.5,657.5Z"/>
<path fill="#F5F254" d="M1021.2,621.2 1025.0,617.5 1028.8,618.8 1032.5,622.5 1035.0,628.8 1036.2,635.0 1035.0,638.8 1032.5,636.2 1030.0,632.5 1029.4,627.5 1026.2,625.0 1022.5,623.8Z M1016.2,643.8 1020.0,638.8 1023.8,637.5 1027.5,638.8 1030.0,641.2 1027.5,645.0 1025.0,647.5 1021.2,648.1 1017.5,646.9Z M1025.0,663.8 1030.0,661.2 1033.8,658.8 1034.4,662.5 1032.5,666.2 1027.5,667.5Z M1015.0,619.4 1016.9,619.4 1016.9,621.9 1015.0,621.9Z"/>
</g>
<g clip-path="url(#t24)">
<rect x="380" y="460" width="160" height="90" fill="#F5F254"/>
<path fill="#F7992E" d="M411.9,506.9 410.0,493.8 411.2,487.5 413.8,482.5 418.1,479.4 421.2,476.2 426.2,475.0 430.0,477.5 433.8,476.2 436.2,478.8 432.5,481.2 428.8,482.5 426.2,485.0 425.0,488.8 428.8,491.2 433.8,492.5 438.8,491.2 442.5,487.5 446.2,485.0 451.2,486.2 455.0,487.5 460.0,488.8 465.0,491.2 470.0,495.0 473.8,498.8 476.2,502.5 480.0,498.8 483.8,495.0 487.5,492.5 490.0,488.8 488.8,485.0 486.2,481.2 485.0,477.5 488.8,475.0 492.5,472.5 497.5,471.9 502.5,473.8 506.2,476.2 507.5,480.0 505.0,482.5 501.2,481.2 497.5,482.5 496.2,486.2 498.8,490.0 502.5,492.5 506.2,495.0 511.2,493.8 511.2,541.2 473.8,541.2 406.9,516.9 406.9,511.5Z"/>
<path fill="#F5F254" d="M413.8,491.2 417.5,490.0 422.5,492.5 426.2,496.2 428.8,498.8 425.0,501.2 421.2,503.8 418.8,507.5 415.0,505.0 412.5,501.2 411.2,496.2Z M461.2,507.5 465.0,505.0 470.0,503.8 475.0,505.0 477.5,508.8 476.2,513.8 472.5,517.5 468.8,521.2 465.0,522.5 461.2,521.2 460.0,516.2 460.6,511.2Z M445.0,516.2 448.8,512.5 452.5,510.0 453.8,513.8 452.5,518.8 450.0,522.5 447.5,525.0 445.0,522.5Z M478.8,522.5 482.5,521.2 486.2,522.5 490.0,526.2 491.2,531.2 488.8,535.0 485.0,536.2 481.2,533.8 478.8,528.8Z M488.8,507.5 492.5,506.2 496.2,510.0 497.5,513.8 495.0,516.2 491.2,515.0 488.8,511.2Z M453.8,522.5 456.2,521.2 457.5,525.0 455.0,526.2Z M501.2,532.5 505.0,531.2 506.2,536.2 503.8,538.8 501.2,537.5Z M416.2,513.8 421.2,515.0 426.2,517.5 428.8,520.0 423.8,520.0 418.8,517.5Z M472.5,526.2 475.0,525.6 475.6,528.8 473.1,529.4Z M505.0,497.5 508.8,496.2 510.0,502.5 506.2,503.8Z M486.2,536.2 492.5,535.0 495.0,540.0 487.5,540.6Z"/>
<path fill="#F7992E" d="M410.6,460.0 416.2,462.5 418.8,466.2 417.5,470.0 415.0,468.8 412.5,465.0Z M426.9,462.5 428.8,463.8 430.0,468.8 432.5,471.2 430.0,472.5 427.5,468.8Z M396.2,486.2 400.0,485.0 402.5,488.8 406.2,491.2 408.8,495.0 407.5,497.5 403.8,495.0 400.0,492.5 396.2,490.0Z M398.8,476.2 402.5,476.9 406.2,480.0 410.0,482.5 408.8,485.0 405.0,483.8 401.2,481.2Z M380.0,488.8 382.5,490.0 383.8,493.8 381.2,493.1 380.0,492.5Z M381.2,503.8 385.0,498.8 388.8,501.2 393.8,501.2 396.2,505.0 398.8,508.8 400.0,511.2 380.0,513.1 380.0,507.5Z M387.5,471.2 390.0,471.9 390.6,473.8 388.1,473.5Z M474.4,460.0 483.8,460.0 482.5,463.1 478.8,463.8 475.0,462.5Z M456.2,463.8 461.2,462.5 462.5,464.4 457.5,466.2Z M445.0,478.8 447.5,478.1 447.5,481.2 445.0,481.9Z M448.8,471.2 453.8,470.0 455.0,473.8 451.2,475.0Z M511.2,491.2 515.0,490.0 516.2,496.2 517.5,502.5 522.5,503.8 525.0,508.8 523.8,513.8 518.8,515.0 515.0,513.8 511.2,515.0Z M523.8,466.2 527.5,463.8 531.2,462.5 532.5,466.2 530.0,470.0 526.2,471.2 524.4,468.8Z M532.5,460.0 540.0,460.0 540.0,466.2 536.2,465.0 533.8,462.5Z M512.5,526.2 517.5,525.6 521.2,528.8 522.5,535.0 521.2,540.0 516.2,540.0 513.8,535.0 512.5,531.2Z M537.5,520.0 540.0,519.4 540.0,528.8 538.1,527.5Z M518.8,480.0 521.2,478.8 521.9,481.2 519.4,482.5Z M526.2,498.8 528.8,498.1 528.8,500.6 526.5,501.0Z"/>
<path fill="#E22E33" d="M498.8,507.5 501.9,506.9 503.1,510.0 500.6,512.5 498.8,511.2Z M498.8,516.2 500.6,515.6 502.5,520.0 503.1,522.5 501.2,521.9 499.4,518.8Z M477.5,531.2 481.2,530.0 480.6,531.9 478.1,533.1Z M475.0,535.0 476.9,534.8 476.9,536.9 475.0,536.9Z"/>
</g>
<g clip-path="url(#t25)">
<path fill="url(#spk)" d="M268.8,118.8 315.0,118.8 316.2,125.0 312.5,132.5 305.0,131.2 295.0,135.0 290.0,142.5 285.0,152.5 280.0,150.0 282.5,140.0 277.5,132.5 270.0,127.5Z M282.5,167.5 292.5,170.0 295.0,177.5 290.0,187.5 282.5,192.5 272.5,190.0 267.5,185.0 275.0,180.0 280.0,175.0Z M232.5,140.0 245.0,142.5 252.5,150.0 250.0,160.0 242.5,162.5 235.0,155.0 231.2,147.5Z M370.0,118.8 377.5,118.8 376.2,132.5 371.2,135.0Z M337.5,120.0 342.5,120.0 341.2,132.5 337.5,135.0Z M407.5,118.8 432.5,120.0 435.0,132.5 427.5,130.0 420.0,127.5 412.5,130.0Z M420.0,137.5 440.0,137.5 442.5,150.0 437.5,162.5 430.0,160.0 422.5,150.0Z M380.0,212.5 395.0,210.0 410.0,215.0 420.0,225.0 427.5,240.0 432.5,250.0 420.0,255.0 410.0,250.0 400.0,240.0 390.0,230.0 382.5,222.5Z M355.0,212.5 362.5,213.8 366.2,222.5 360.0,222.5Z M480.0,247.5 490.0,240.0 507.5,242.5 510.0,255.0 500.0,260.0 485.0,260.0Z M495.0,262.5 507.5,265.0 512.5,280.0 497.5,280.0Z M482.5,212.5 500.0,215.0 502.5,220.0 487.5,218.8Z M430.0,195.0 437.5,193.8 438.8,198.8 431.2,200.0Z"/>
<path fill="#F7992E" d="M518.8,230.0 525.0,227.5 526.2,237.5 520.0,240.0Z M530.0,252.5 535.0,251.2 535.0,255.0 530.0,256.2Z M516.2,267.5 520.0,266.2 521.2,272.5 517.0,272.5Z"/>
</g>
<g clip-path="url(#t26)">
<path fill="url(#spk)" d="M237.5,302.5 245.0,305.0 247.5,315.0 243.8,330.0 237.5,335.0 235.0,325.0 237.5,315.0Z M243.8,355.0 251.2,360.0 252.5,367.5 246.2,370.0Z M312.5,380.0 320.0,385.0 330.0,397.5 337.5,410.0 345.0,422.5 347.5,435.0 346.2,450.0 340.0,442.5 335.0,430.0 330.0,417.5 322.5,405.0 315.0,392.5Z M475.0,326.2 497.5,326.2 496.2,332.5 477.5,333.8Z M283.8,330.0 288.8,332.5 287.5,345.0 291.2,352.5 286.2,350.0 283.8,340.0Z"/>
<path fill="#F7992E" d="M361.2,420.0 365.0,421.2 370.0,430.0 376.2,442.5 382.5,448.8 377.5,450.0 370.0,441.2 365.0,432.5 361.2,426.2Z M350.0,421.2 355.0,422.5 353.8,426.2 350.0,425.0Z M428.8,317.5 436.2,313.8 437.5,317.5 430.0,321.2Z M502.5,336.2 510.0,338.8 510.0,348.8 502.5,347.5Z M485.0,361.2 490.0,366.2 492.5,377.5 488.8,376.2Z M498.8,377.5 507.5,370.0 508.8,377.5 501.2,386.2Z M478.8,402.5 485.0,401.2 483.8,407.5 478.8,406.2Z M495.0,410.0 501.2,408.8 500.0,416.2 495.0,416.2Z M513.8,358.8 520.0,362.5 527.5,360.0 536.2,353.8 540.0,356.2 540.0,380.0 532.5,382.0 527.5,375.0 521.2,372.5 517.5,367.5Z M523.8,331.2 535.0,332.5 537.5,342.5 532.5,343.8 526.2,338.8Z M472.5,450.0 481.2,441.2 486.2,448.8 485.0,460.0 471.2,460.0Z M406.2,435.0 413.8,430.0 413.8,433.8 408.8,437.5Z M410.0,423.8 413.8,422.5 413.8,427.5 410.5,428.0Z M518.8,410.0 527.5,411.2 526.2,416.2 519.5,416.2Z M425.0,437.5 435.0,440.0 433.8,445.0 426.2,442.5Z M445.0,432.5 460.0,430.0 461.2,433.8 446.2,436.2Z"/>
</g>
<g clip-path="url(#t27)">
<rect x="640" y="620" width="160" height="90" fill="#F7992E"/>
<path fill="#F5F254" d="M708.1,621.2 711.2,622.5 716.2,625.0 715.0,626.9 711.2,625.0 708.8,623.1Z M695.6,630.0 696.9,630.0 697.5,633.8 698.1,636.9 696.9,636.2Z M701.9,636.0 704.0,635.8 703.8,637.5 702.1,637.5Z"/>
</g>
</g></g>
<path d="M1020.0,632.5 1024.2,628.0 1028.2,632.5 1025.0,637.5Z M850.0,565.0 855.0,562.0 861.2,565.0 857.5,568.0Z" fill="#fff" stroke="#1a1a1a" stroke-width="1"/>
<path d="M261.2,117.0 761.2,116.6 761.2,118.8 763.8,119.4 765.0,116.2 763.8,112.5 763.8,106.9 767.5,106.2 770.0,108.8 771.9,116.2 772.5,120.6 775.0,123.8 780.0,125.0 785.0,126.2 788.8,128.1 790.0,130.0 793.8,129.4 797.5,126.9 802.5,126.9 807.5,129.4 810.0,131.2 812.5,133.1 815.0,136.9 818.8,135.0 822.5,136.2 826.2,139.4 830.0,142.5 835.0,141.2 838.8,138.8 842.5,138.1 843.8,140.6 850.0,141.2 856.2,141.9 860.0,144.4 863.1,143.8 866.2,144.4 863.1,146.0 860.0,148.1 853.8,151.2 847.5,155.0 841.2,158.8 836.2,162.5 831.2,167.5 826.2,172.5 821.2,176.9 818.8,178.8 825.0,178.1 831.2,176.9 837.5,175.0 841.2,173.8 841.9,180.0 845.0,178.8 850.0,181.9 855.0,181.2 860.0,178.5 865.0,175.6 871.2,173.1 877.5,168.8 882.5,165.0 886.2,161.2 891.2,158.8 897.5,158.5 901.9,160.0 896.2,161.9 892.5,165.0 888.8,168.8 885.6,172.5 885.6,176.9 888.8,173.8 893.8,172.5 898.8,174.4 902.5,178.1 906.2,182.5 910.0,184.4 915.0,185.0 918.8,183.8 922.5,181.9 927.5,180.0 933.8,179.4 940.0,178.8 947.5,177.2 948.8,180.0 948.8,183.8 953.8,185.0 958.8,185.6 963.8,183.8 965.0,188.8 967.5,193.8 971.2,195.6 976.2,195.6 976.9,198.1 972.5,199.4 967.5,198.1 960.0,198.1 955.0,198.1 953.1,200.0 950.0,198.1 946.2,196.2 942.5,195.6 937.5,196.2 932.5,198.1 927.5,198.8 925.0,201.9 921.2,203.1 920.0,201.2 917.5,202.5 913.8,200.0 911.9,203.8 913.1,206.2 910.0,210.0 907.5,213.8 905.0,217.5 906.9,213.1 905.0,217.5 902.5,221.2 900.6,223.1 896.9,228.1 895.0,232.5 894.4,235.0 897.5,233.1 900.6,230.0 905.0,226.9 907.5,222.5 911.2,218.8 915.0,213.8 918.1,209.4 920.0,206.2 917.5,211.2 913.8,216.2 910.6,221.2 907.5,226.2 905.0,230.0 903.8,232.5 903.1,236.2 902.5,240.0 903.1,241.2 901.2,247.5 900.0,253.8 898.1,261.2 896.9,267.5 896.2,275.0 896.9,281.2 897.5,286.2 898.1,290.0 897.5,280.0 898.8,292.5 902.5,301.2 908.8,307.0 916.2,305.0 922.5,297.5 926.2,287.5 927.5,280.0 925.6,290.0 926.2,287.5 926.9,281.2 926.2,275.0 925.0,270.0 923.1,265.0 921.2,260.0 921.9,256.2 921.2,251.2 921.9,246.2 924.4,241.2 925.6,236.2 926.2,231.2 930.0,228.1 933.8,225.0 936.2,226.2 938.8,229.4 941.2,226.9 941.9,222.5 942.5,216.9 945.0,214.4 948.8,212.5 947.5,207.5 950.0,204.4 955.0,203.8 960.0,205.6 963.8,208.8 967.5,211.2 972.5,213.1 977.5,216.2 979.4,221.2 981.2,223.1 978.8,225.0 980.6,230.0 980.0,235.0 978.1,240.0 975.6,243.8 973.1,247.5 970.0,250.0 968.8,253.8 970.6,257.5 973.1,258.8 976.2,255.0 980.0,251.2 983.8,248.1 987.5,247.5 990.0,249.4 991.9,253.8 993.1,260.0 994.4,266.2 995.6,272.5 995.6,277.5 993.8,281.2 990.6,283.8 988.8,287.5 988.1,290.0 990.0,285.0 985.0,290.0 981.2,297.5 977.5,305.0 985.0,310.0 992.5,312.5 1002.5,310.0 1012.5,306.2 1022.5,302.5 1030.8,299.5 1037.5,296.2 1043.8,292.0 1050.0,287.5 1056.2,283.8 1058.8,277.5 1057.0,270.0 1058.8,267.0 1065.0,265.5 1075.0,265.0 1085.0,268.0 1095.0,266.2 1103.8,262.5 1107.5,255.0 1105.0,250.0 1108.8,242.5 1115.0,237.5 1122.5,230.0 1132.5,223.2 1160.0,223.2 1193.8,223.2 1196.2,217.5 1201.2,216.2 1206.2,213.8 1210.0,207.5 1215.0,197.5 1217.5,187.5 1222.5,177.5 1230.0,167.5 1237.5,160.0 1240.0,165.0 1247.5,163.8 1255.0,161.2 1260.0,165.0 1262.5,170.0 1262.5,192.5 1262.5,207.5 1268.8,210.0 1270.0,217.5 1276.2,225.0 1275.0,230.0 1267.5,233.8 1260.0,237.5 1252.5,238.8 1245.0,242.5 1237.5,247.5 1230.0,250.0 1222.5,253.8 1217.5,258.8 1212.5,265.0 1210.0,272.5 1208.8,278.8 1206.2,277.5 1211.2,282.5 1207.5,286.2 1202.5,290.0 1205.0,292.5 1207.5,295.0 1210.0,298.8 1212.5,302.5 1215.0,304.4 1223.8,304.4 1223.1,298.8 1220.0,296.9 1217.5,297.2 1221.2,299.4 1221.9,303.1 1215.0,306.2 1210.0,308.1 1206.2,310.0 1201.2,311.9 1197.5,313.8 1195.0,315.0 1190.0,314.8 1185.0,316.0 1177.5,317.2 1170.0,318.5 1162.5,320.2 1156.2,322.5 1152.5,326.2 1151.2,328.8 1150.0,331.2 1151.2,340.0 1147.5,352.5 1142.5,360.0 1135.0,367.5 1132.5,371.2 1127.5,365.0 1122.5,357.5 1120.0,352.5 1123.8,362.5 1128.8,372.5 1130.0,380.0 1127.5,390.0 1122.5,400.0 1117.5,407.5 1113.1,413.1 1111.9,408.8 1114.4,403.8 1116.2,398.8 1114.4,395.0 1112.5,391.2 1111.2,387.5 1109.0,385.0 1106.9,386.9 1107.5,395.0 1108.8,406.2 1107.5,413.8 1110.0,416.9 1112.5,418.8 1113.8,422.5 1115.0,427.5 1117.5,432.5 1120.0,437.5 1121.9,443.8 1122.5,448.8 1120.0,453.8 1116.2,456.2 1112.5,458.8 1110.0,460.0 1115.0,462.5 1110.0,465.0 1100.0,468.8 1092.5,470.0 1085.0,473.8 1077.5,478.8 1070.0,485.0 1062.5,488.8 1057.5,495.0 1052.5,501.2 1045.0,507.5 1037.5,512.5 1030.0,517.5 1023.8,522.5 1020.0,528.8 1017.5,535.0 1015.0,542.5 1013.0,552.5 1013.8,560.0 1015.0,567.5 1017.5,577.5 1021.2,585.0 1025.0,592.5 1028.8,600.0 1031.2,610.0 1035.0,620.0 1037.5,630.0 1038.8,640.0 1040.0,640.0 1038.8,650.0 1037.5,660.0 1035.0,667.5 1030.0,672.5 1022.5,671.2 1017.5,665.0 1012.5,657.5 1007.5,652.5 1005.0,645.0 1000.0,640.0 996.2,632.5 992.5,625.0 988.8,617.5 987.5,610.0 990.0,602.5 986.2,597.5 983.8,590.0 980.0,582.5 975.0,575.0 970.0,570.0 965.0,567.5 960.0,568.8 955.0,573.8 948.8,577.5 943.8,575.0 940.0,570.0 935.0,565.0 927.5,562.5 920.0,561.2 910.0,562.5 900.0,563.8 893.8,553.8 892.5,560.0 885.0,562.0 875.0,563.0 867.5,565.0 860.0,567.5 862.5,566.2 867.5,570.0 871.2,577.5 872.5,587.5 865.0,581.2 860.0,585.0 850.0,587.5 840.0,586.2 832.5,582.5 825.0,577.5 817.5,578.8 807.5,577.0 797.5,575.0 786.2,575.8 775.0,580.0 770.0,582.5 765.0,586.2 757.5,591.2 750.0,595.5 742.5,598.8 736.2,602.5 730.0,608.8 726.2,615.0 723.8,622.5 722.5,630.0 723.8,637.5 726.2,645.0 727.5,652.5 722.5,654.5 715.0,651.2 707.5,650.0 700.0,646.2 693.8,642.5 690.0,637.5 686.2,630.0 685.0,622.5 681.2,616.2 675.0,610.0 670.0,602.5 665.0,595.0 661.2,587.5 655.0,580.0 648.8,575.0 640.0,573.8 632.5,573.8 626.2,577.5 622.5,585.0 618.8,590.8 608.8,587.5 600.0,583.8 597.5,578.8 592.5,572.5 588.8,562.5 582.5,555.0 575.0,550.0 567.5,542.5 561.2,535.0 555.5,528.8 555.5,531.2 540.0,532.5 526.2,532.5 526.2,541.2 511.2,541.2 473.8,541.2 406.2,517.0 407.5,511.8 364.5,515.5 362.5,510.0 358.8,502.5 352.5,495.0 345.0,490.0 340.0,487.5 335.0,483.8 327.5,480.0 320.0,476.2 307.5,473.8 300.5,471.2 300.0,460.0 295.0,455.0 290.0,447.5 282.5,440.0 277.5,430.0 280.0,422.5 273.8,415.0 267.5,407.5 266.2,397.5 258.8,392.5 257.5,385.0 250.0,377.5 245.0,370.0 243.8,357.5 238.8,347.5 232.5,337.5 232.5,330.0 235.0,322.5 237.5,310.0 235.5,298.8 232.0,287.5 230.0,280.0 233.0,270.0 235.5,260.0 237.0,250.0 238.0,240.0 238.5,230.0 239.0,220.0 240.0,210.0 240.5,200.0 241.2,192.0 238.0,185.0 239.5,175.0 236.2,167.5 232.5,160.0 230.0,150.0 227.0,142.5 225.5,133.8 232.5,136.9 238.8,139.4 245.0,140.0 251.2,141.0 257.5,140.0 259.8,135.0 261.2,127.5 262.2,122.5 261.5,117.5Z M871.2,147.5 876.2,144.4 882.5,140.0 888.1,137.8 883.8,141.9 877.5,146.9 873.1,149.4Z M1151.9,330.6 1156.2,326.2 1163.8,323.1 1172.5,320.6 1180.0,318.5 1185.0,317.8 1188.1,320.0 1185.0,322.5 1178.8,325.0 1172.5,327.5 1165.0,330.6 1157.5,333.1Z M1206.2,312.5 1210.0,311.5 1213.1,313.1 1210.6,315.0 1206.9,314.8Z M1215.6,315.0 1220.0,314.5 1222.8,315.8 1218.8,316.5Z" fill="none" stroke="#1a1a1a" stroke-width="1.3" stroke-linejoin="round"/>
<g fill="none" stroke="#1a1a1a" stroke-width="1.4" stroke-linejoin="round">
<path d="M365.8,117.0 365.8,188.8 367.5,196.2 372.5,202.5 376.2,206.2 373.8,217.5 367.5,227.5 362.5,237.5 363.0,242.5 367.5,245.0 366.2,255.0 365.8,262.5 365.8,298.5"/>
<path d="M241.2,192.0 251.2,193.0 257.5,196.2 261.2,206.2 270.0,209.5 280.0,205.5 291.2,207.5 305.0,204.5 320.0,200.5 330.0,197.5 367.0,197.5"/>
<path d="M383.8,117.0 383.8,145.0 390.0,157.5 395.0,162.5 405.0,175.0 415.0,181.2 412.5,195.0 411.2,207.5 417.5,210.0 421.2,205.0 427.5,215.0 432.5,225.0 440.0,237.5 450.0,236.2 460.0,235.0 468.8,230.0 474.5,236.2"/>
<path d="M474.5,226.2 474.5,323.0"/>
<path d="M235.5,298.5 474.5,298.5"/>
<path d="M311.8,298.5 311.8,371.2 407.5,458.8"/>
<path d="M406.2,457.5 408.1,460.0 410.0,465.0 413.8,471.2 417.5,476.2 418.1,479.4 413.8,482.5 411.2,487.5 410.0,493.8 408.1,498.8 408.8,503.8 411.9,506.9 411.2,510.6 406.9,511.5"/>
<path d="M420.2,298.5 420.2,436.2 417.5,438.8 410.0,436.2 407.5,440.0 408.8,450.0 410.0,460.0"/>
<path d="M474.5,323.0 511.2,323.0"/>
<path d="M420.2,417.0 511.2,417.0"/>
<path d="M511.2,323.0 511.2,417.0"/>
<path d="M511.2,416.2 511.2,541.2"/>
<path d="M475.0,223.5 602.1,223.5"/>
<path d="M602.1,116.6 602.1,323.1"/>
<path d="M602.1,199.0 700.0,199.0"/>
<path d="M700.0,199.0 738.1,199.0"/>
<path d="M726.2,116.6 726.9,121.2 728.8,127.5 728.1,135.0 729.4,142.5 731.2,148.8 732.5,155.0 733.1,162.5 733.8,170.0 734.4,177.5 735.6,185.0 737.5,190.0"/>
<path d="M737.5,190.0 738.8,197.5 737.5,201.2 733.8,206.2 735.0,211.2 740.0,215.0 740.2,261.5 738.1,262.5 738.8,267.5 740.6,271.2 738.8,277.5 737.5,280.0 737.5,283.8"/>
<path d="M740.2,261.5 835.6,261.5"/>
<path d="M818.8,178.8 816.9,181.2 816.2,190.0"/>
<path d="M816.2,190.0 815.6,195.0 810.0,198.8 805.6,203.8 805.6,208.8 808.8,212.5 807.5,217.5 806.9,225.0 807.5,230.0 812.5,233.8 817.5,237.5 822.5,241.2 825.0,245.0 830.0,248.8 833.8,252.5 835.6,257.5 835.6,261.5 837.5,265.0 838.8,270.0 836.9,275.0 838.1,280.0"/>
<path d="M602.1,274.8 700.0,274.8"/>
<path d="M700.0,274.4 705.0,276.2 710.0,279.4 713.8,278.1 722.5,277.5 728.8,279.4 732.5,280.6 737.5,283.8"/>
<path d="M540.0,323.1 638.8,323.1 638.8,347.2"/>
<path d="M638.8,347.2 700.0,347.2"/>
<path d="M700.0,347.2 760.0,346.9"/>
<path d="M638.8,347.2 638.8,416.9"/>
<path d="M470.0,416.9 700.0,416.9"/>
<path d="M700.0,416.9 773.8,416.9"/>
<path d="M621.0,416.9 621.0,460.0"/>
<path d="M620.2,460.0 620.2,527.2 555.6,527.2 555.6,531.2"/>
<path d="M621.0,428.1 675.6,428.1 675.6,460.0"/>
<path d="M676.2,460.0 676.2,471.2 680.0,473.8 685.0,475.6 688.8,475.0 691.2,478.8 696.2,480.0 700.0,480.6"/>
<path d="M700.0,480.0 705.0,480.6 710.0,481.2 713.8,486.2 718.8,484.4 722.5,486.9 727.5,489.4 731.2,485.6 736.2,486.9 742.5,490.0 747.5,487.5 752.5,486.9 757.5,486.2 762.5,485.0 767.5,488.1 772.5,490.6 776.2,491.9 778.8,493.1 783.8,493.1 783.8,505.2 784.0,526.2 786.2,530.0 788.8,535.0 791.2,540.0 793.1,545.0 793.1,550.0"/>
<path d="M793.1,550.0 791.9,555.0 790.0,558.8 789.4,563.8 790.0,568.8 787.5,572.5 786.9,575.6"/>
<path d="M776.2,458.8 776.2,491.9"/>
<path d="M783.8,505.2 836.2,505.2"/>
<path d="M728.8,278.8 731.2,280.0 736.2,282.5 740.0,286.2 742.5,292.5 745.0,298.8 746.9,305.0 749.4,311.2 750.6,317.5 751.2,323.8 751.2,330.0 753.8,333.8 755.0,338.8 758.8,343.8 760.0,346.9 763.8,349.4 768.1,351.2 768.1,354.4 765.0,357.5 767.5,362.5 771.9,366.2 773.8,370.0"/>
<path d="M773.8,370.0 773.8,416.9 774.4,428.1 776.2,440.0 777.5,450.0 778.1,460.0 778.4,463.8"/>
<path d="M753.8,333.5 826.2,333.5 828.8,335.0 831.2,338.1"/>
<path d="M774.4,428.1 855.6,428.1 856.2,432.5 853.8,436.2 851.2,438.8 860.0,439.4"/>
<path d="M838.1,278.8 838.8,280.0 842.5,282.5 847.5,286.2 850.0,291.2 853.8,295.0 855.0,300.0 852.5,305.0 850.0,308.8 845.0,311.2 840.0,312.5 837.5,316.2 838.8,320.0 840.0,325.0 837.5,330.0 833.8,332.5 831.9,336.2 830.0,340.0 830.0,345.0 831.2,350.0 835.0,353.8 838.8,357.5 842.5,362.5 845.0,367.5 845.6,370.0"/>
<path d="M845.0,370.0 848.8,372.5 853.8,374.4 855.6,377.5 853.1,382.5 851.2,386.2 853.8,390.0 857.5,393.8 860.0,396.2"/>
<path d="M860.0,396.9 863.8,400.0 866.2,405.0 867.5,410.0 871.2,415.0 873.1,418.8 872.5,423.8 867.5,427.5 865.0,432.5 863.8,437.5 864.4,441.2 861.2,445.0 860.0,447.5"/>
<path d="M860.0,445.0 856.2,450.0 855.0,455.0 856.2,460.0"/>
<path d="M855.0,460.0 852.5,462.5 848.8,467.5 845.0,473.8 841.2,478.8 838.8,483.8 836.9,490.0 836.2,496.2 837.5,502.5 836.2,507.5 838.8,513.8 840.6,520.0 837.5,525.0 835.0,530.0 832.5,535.0 830.0,540.0 828.8,545.0 828.8,548.5 860.0,548.5"/>
<path d="M860.0,548.5 860.0,548.8"/>
<path d="M857.5,548.5 860.0,548.5 860.0,556.2 863.8,558.8 865.6,562.5"/>
<path d="M847.5,286.2 860.0,286.2"/>
<path d="M860.0,286.2 898.1,286.2"/>
<path d="M865.0,192.1 867.5,193.1 875.0,195.0 882.5,196.9 890.0,198.8 893.1,202.5 896.2,203.8 897.5,208.8 897.5,213.8 900.0,215.0 901.2,219.4"/>
<path d="M850.6,182.5 855.0,186.9 860.0,189.4 865.0,191.0"/>
<path d="M902.9,306.9 902.9,370.0"/>
<path d="M902.5,370.0 903.1,376.2 900.0,381.2 897.5,386.2 895.0,391.2 893.8,396.2"/>
<path d="M916.2,304.6 952.5,304.6 952.5,305.6 976.9,305.4"/>
<path d="M952.5,305.0 952.5,367.5"/>
<path d="M1030.6,298.8 1030.6,353.1 1116.2,353.1 1116.2,370.0"/>
<path d="M1116.2,370.0 1116.2,391.2 1127.5,391.2"/>
<path d="M1030.6,331.2 1028.8,333.8 1029.4,338.8 1027.5,342.5 1025.0,347.5 1022.5,352.5 1020.0,357.5"/>
<path d="M1020.0,357.5 1016.2,360.0 1013.8,361.2 1010.0,365.0 1007.5,370.0"/>
<path d="M1007.5,370.0 1003.8,370.0 1002.5,371.2 1000.0,375.0 997.5,380.0 992.5,384.4 988.8,380.6 986.2,376.9 982.5,377.5 977.5,378.8 972.5,379.4 968.8,377.5 963.8,375.0 960.0,370.0 957.5,368.1 955.0,368.8 952.5,367.5"/>
<path d="M951.9,367.5 952.5,373.8 947.5,376.2 942.5,377.5 940.0,382.5 936.2,385.0 933.8,388.8 931.2,393.8 927.5,392.5 925.0,390.0 922.5,393.8 918.8,396.2 915.0,393.8 911.2,397.5 907.5,396.2 902.5,395.0 898.8,396.9 895.0,396.2 893.1,400.0 891.2,405.0 888.8,406.2 885.0,408.8 886.2,413.8 882.5,412.5 877.5,412.5 873.8,415.0 873.1,418.8"/>
<path d="M867.5,427.8 893.1,428.1 893.8,424.4 935.0,425.0 972.5,426.2 1020.0,425.6"/>
<path d="M1020.0,426.9 1112.5,426.9"/>
<path d="M992.5,384.4 992.5,390.0 995.0,396.2 998.8,401.2 1002.5,405.6 997.5,411.2 991.2,416.2 985.0,420.0 978.8,423.8 972.5,426.2"/>
<path d="M1002.5,405.6 1006.2,410.0 1010.0,411.2 1015.0,409.4 1020.0,410.6"/>
<path d="M1020.0,410.0 1025.0,407.5 1030.0,406.2 1033.8,403.8 1035.0,400.0 1038.8,395.0 1042.5,390.0 1045.0,385.0 1046.2,381.2 1051.2,383.8 1055.0,380.0 1057.5,376.2 1061.2,373.8 1065.0,370.0"/>
<path d="M1065.0,370.0 1070.0,366.2 1073.8,363.8 1078.8,361.2 1080.0,357.5 1082.5,355.6"/>
<path d="M1048.8,353.1 1048.8,365.0 1053.8,361.2 1058.8,357.5 1063.8,356.2 1070.0,355.0 1073.8,355.0 1078.8,356.2 1082.5,355.6 1087.5,358.8 1092.5,361.2 1096.2,365.0 1097.5,370.0"/>
<path d="M1097.5,370.0 1095.0,375.0 1087.5,382.5 1092.5,386.2 1097.5,388.8 1102.5,391.2 1107.5,395.0"/>
<path d="M1043.8,293.8 1043.8,298.8 1123.8,298.8 1126.2,301.2 1130.0,305.0 1131.2,310.0 1135.0,313.8 1140.0,316.2 1145.0,318.8 1150.0,321.2"/>
<path d="M1135.0,314.4 1131.2,320.0 1128.8,325.0 1127.5,330.0 1128.8,335.0 1132.5,338.8 1135.0,342.5 1131.2,345.0 1126.2,347.5 1121.2,350.0 1117.5,352.5 1116.2,355.0"/>
<path d="M1160.0,223.5 1160.6,231.2 1159.4,240.0 1160.0,248.8 1159.4,257.5 1161.9,260.0 1162.5,270.0 1162.5,280.0"/>
<path d="M1162.5,280.0 1161.2,280.0 1160.0,287.5 1158.1,297.5 1156.9,307.5 1156.2,316.2 1154.4,322.5"/>
<path d="M1193.8,223.2 1192.5,232.5 1186.2,240.0 1183.8,247.5 1181.2,257.5 1178.8,267.5 1176.2,277.5 1175.5,280.5"/>
<path d="M1201.2,216.2 1202.5,235.0 1203.8,260.0 1206.2,272.5 1208.8,277.5"/>
<path d="M1161.2,280.4 1180.0,280.6"/>
<path d="M1180.0,280.5 1200.0,281.2 1206.2,277.5"/>
<path d="M1158.1,297.5 1180.0,298.1"/>
<path d="M1180.0,298.8 1195.0,298.8"/>
<path d="M1189.5,298.8 1189.5,313.8"/>
<path d="M1008.8,426.2 1007.5,431.2 1002.5,435.0 997.5,436.2 992.5,438.8 988.8,442.5 985.0,443.8 980.0,446.2 975.0,450.0 970.0,452.5 965.0,455.0 962.5,457.5 962.5,460.0"/>
<path d="M856.2,461.9 978.8,461.9"/>
<path d="M962.5,460.0 963.8,461.9"/>
<path d="M991.2,460.0 997.5,458.1 1020.0,457.5"/>
<path d="M1020.0,457.5 1022.5,458.1"/>
<path d="M1017.5,458.8 1020.0,460.0 1025.0,465.0 1045.0,465.6 1052.5,472.5 1058.8,480.0 1065.0,486.2"/>
<path d="M891.9,461.9 890.6,472.5 889.4,485.0 888.1,497.5 886.9,510.0 885.6,522.5 885.0,535.0 886.2,550.0"/>
<path d="M886.2,550.0 886.9,562.5"/>
<path d="M937.5,461.9 940.0,472.5 942.5,485.0 945.0,497.5 947.5,510.0 950.0,520.0 949.4,523.8 946.2,530.0 947.5,535.0 946.9,541.2 948.8,547.5 949.4,550.0"/>
<path d="M949.4,550.0 950.0,553.8 955.0,555.0 985.0,556.2 998.8,556.9 1000.0,561.2 1002.5,562.5 1003.8,557.5 1005.0,553.8 1012.5,554.4"/>
<path d="M901.9,548.5 948.8,548.5"/>
<path d="M901.2,548.5 901.2,550.0 903.8,553.8 905.0,557.5 906.2,561.9"/>
<path d="M985.0,461.9 982.5,465.0 978.8,468.8 981.2,471.2 986.2,475.0 990.0,480.0 993.8,485.0 997.5,488.8 1001.2,492.5 1005.0,497.5 1008.8,502.5 1011.2,507.5 1013.8,512.5 1016.2,517.5 1018.8,522.5 1020.0,526.2"/>
<path d="M961.2,460.0 961.2,461.9"/>
</g>
<g fill="none" stroke="#1a1a1a" stroke-width="1.8" stroke-linejoin="round" stroke-linecap="round">
<path d="M609.4,140.0 611.2,144.4 616.2,141.2 621.2,140.0 626.2,140.6 630.0,144.4 627.5,148.1 630.0,150.6 633.1,151.2 632.5,146.2 633.8,150.0 636.2,151.9 634.4,155.0 626.2,155.6 630.0,157.5 635.0,155.0 640.0,157.5 646.2,156.2 652.5,155.0"/>
<path d="M661.9,180.0 665.0,181.2 665.6,186.2 666.2,190.0"/>
<path d="M665.0,190.0 663.8,195.0 666.2,198.8 670.0,200.0 667.5,203.8 669.4,207.5 663.8,206.2 670.0,210.0 671.2,215.0 663.8,215.0 670.6,217.5 671.2,222.5 667.5,223.8 668.8,227.5 663.8,227.5 658.8,230.0 652.5,231.2"/>
<path d="M440.0,307.0 443.8,306.2 445.0,312.5 448.8,317.5 451.2,326.2 455.0,330.0 458.8,325.0 456.2,320.0 453.8,315.0 450.0,311.2 446.2,313.8 443.8,320.0 440.0,316.2 438.8,310.0 440.0,307.0"/>
</g>
<g fill="#fff" stroke="#1a1a1a" stroke-width="1.2" stroke-linejoin="round"><path d="M1106.2,438.1 1115.0,436.9 1116.9,439.4 1110.0,440.2Z"/><path d="M1116.2,445.0 1119.4,444.4 1121.0,447.5 1121.0,451.2 1119.4,454.4 1116.5,455.6 1117.8,451.2Z"/><path d="M850.0,565.6 853.8,561.9 858.8,563.1 860.0,565.0 860.0,568.1 856.2,569.4 851.9,568.1Z"/><path d="M860.0,564.8 862.5,566.2 860.0,568.5Z"/><path d="M892.8,563.5 893.1,557.5 894.4,554.0 895.9,557.5 897.0,562.5Z"/><path d="M820.0,574.4 823.8,573.8 827.5,575.6 826.2,579.4 823.1,580.0 819.4,576.9Z"/><path d="M767.5,575.0 770.6,573.8 772.5,576.9 771.9,580.6 769.4,581.9 768.1,578.8Z"/><path d="M740.0,598.8 743.8,597.5 745.0,599.4 741.9,601.2Z"/><path d="M723.8,614.4 726.9,614.8 726.5,616.9 724.4,616.9Z"/></g>
<g fill="#1a1a1a"><path d="M252.5,125.6 256.2,123.1 260.0,123.8 263.1,126.2 261.9,130.0 258.8,131.9 255.0,130.6Z"/><path d="M256.2,163.8 260.0,162.5 264.4,163.1 265.0,166.9 261.2,169.4 256.9,168.8Z"/><path d="M255.4,116.9 257.2,116.9 257.2,118.5 255.4,118.5Z"/><path d="M1195.6,305.0 1198.8,303.8 1201.2,306.2 1200.0,310.0 1196.9,310.6Z"/><path d="M1191.5,317.5 1193.8,317.5 1193.8,320.0 1191.5,320.0Z"/><path d="M860.0,571.9 865.0,570.0 870.0,567.5 872.5,568.8 871.9,573.8 868.8,576.9 866.2,579.4 870.6,581.9 874.4,584.4 876.2,586.9 874.4,590.6 871.2,591.9 868.1,591.2 867.5,587.5 863.8,585.6 860.0,584.4Z"/><path d="M832.5,582.8 835.0,582.8 838.8,584.0 842.5,587.0 846.2,588.2 850.0,587.0 855.0,584.8 860.0,582.2 860.0,587.5 855.0,589.0 850.0,590.2 845.0,590.2 841.2,589.5 837.5,586.5 833.8,585.2Z"/><path d="M1003.8,681.2 1007.5,678.8 1012.5,676.9 1017.5,676.2 1018.1,678.8 1013.8,680.0 1008.8,681.9 1004.4,682.5Z"/><path d="M986.5,679.0 988.8,679.0 988.8,680.5 986.5,680.5Z"/><path d="M1000.0,680.2 1001.9,680.2 1001.9,681.8 1000.0,681.8Z"/><path d="M337.5,495.8 340.5,496.5 342.5,499.5 339.5,499.0Z"/><path d="M319.0,499.0 322.0,499.0 322.0,501.2 319.0,501.2Z"/><path d="M337.5,505.5 339.5,506.0 342.0,510.0 339.5,509.5Z"/><path d="M328.5,494.5 330.2,494.5 330.2,496.0 328.5,496.0Z"/><path d="M936.2,202.5 941.2,201.9 942.5,204.4 940.0,206.9 937.5,205.6Z"/><path d="M931.9,211.2 935.0,210.6 935.0,213.8 932.5,214.4Z"/><path d="M927.5,221.2 930.6,220.6 931.2,223.8 928.1,224.4Z"/><path d="M936.2,220.0 939.4,218.1 941.2,222.5 941.9,227.5 939.4,230.0 936.9,226.9Z"/><path d="M840.0,171.2 843.8,169.4 847.5,168.8 850.6,170.0 848.8,173.1 845.0,175.0 842.5,178.8 841.0,176.2Z"/><path d="M983.8,308.8 987.5,306.2 990.6,308.1 991.2,311.2 987.5,312.8 985.0,311.9Z"/></g>
<g fill="none" stroke="#1a1a1a" stroke-linejoin="round" stroke-linecap="round"><path stroke-width="2.6" d="M261.9,117.5 263.1,123.1 265.6,128.8 267.5,135.0 270.0,141.2 271.2,145.6 269.4,151.2 270.0,157.5 268.1,163.8"/><path stroke-width="1.8" d="M257.5,140.0 260.6,141.9 263.1,140.6"/><path stroke-width="2.0" d="M263.8,132.5 265.6,138.8 268.1,143.8 266.9,148.8 268.1,155.0"/><path stroke-width="2.0" d="M262.5,141.2 259.4,148.8 256.2,156.2 255.0,160.0 257.5,162.5 261.9,159.4 264.4,153.8 266.0,147.5"/><path stroke-width="2.0" d="M236.2,170.6 238.8,172.5 241.2,171.9 238.8,175.0 241.9,176.2"/><path stroke-width="2.0" d="M238.1,180.0 240.0,183.8 238.8,187.5 241.2,190.0 239.4,191.9"/><path stroke-width="2.6" d="M1275.5,225.5 1273.8,230.5 1267.5,233.2 1263.8,236.2 1260.0,235.0 1256.2,238.8 1252.5,237.5 1248.8,241.2 1245.0,242.0 1241.2,246.2 1237.5,247.0 1233.8,248.8 1230.0,250.0 1225.0,252.5 1221.2,255.0 1217.5,258.8 1213.8,263.8"/><path stroke-width="1.6" d="M1242.5,240.0 1243.8,246.2"/><path stroke-width="1.6" d="M1250.0,237.5 1251.2,242.5"/><path stroke-width="1.6" d="M1233.8,245.0 1235.0,250.5"/><path stroke-width="3.0" d="M1088.1,471.9 1085.0,473.8 1082.5,476.2"/><path stroke-width="3.2" d="M1056.2,496.2 1053.8,499.4 1051.2,502.5 1048.1,505.0 1045.0,506.9 1041.2,510.0 1038.8,512.5 1035.0,514.4 1031.2,516.2 1027.5,518.8 1025.0,522.5 1022.5,526.2 1020.6,530.0"/><path stroke-width="3.0" d="M1020.6,529.4 1018.8,533.8 1016.9,537.5 1015.0,541.2 1013.1,545.6 1011.9,550.0"/><path stroke-width="2.6" d="M1016.2,540.0 1014.4,545.0 1012.8,551.2"/><path stroke-width="2.2" d="M1023.8,593.8 1026.2,597.5 1028.1,600.0 1027.5,603.8"/><path stroke-width="1.6" d="M1092.5,375.0 1095.0,381.2 1100.0,385.0 1105.0,387.5 1107.5,391.9"/><path stroke-width="1.6" d="M1093.8,391.2 1097.5,395.0 1101.2,398.1 1106.2,401.2 1107.5,406.2"/><path stroke-width="1.6" d="M1089.4,409.4 1095.0,410.6 1100.0,413.8 1105.0,416.9 1107.5,419.4"/><path stroke-width="1.6" d="M1097.5,405.0 1101.2,408.8 1105.0,412.5"/><path stroke-width="1.6" d="M1127.5,387.5 1125.0,391.9 1121.9,396.9 1120.0,401.9 1117.5,406.9 1115.6,411.2"/><path stroke-width="1.6" d="M1097.5,431.2 1100.0,435.0 1103.8,438.1 1110.0,438.5 1116.2,438.1"/><path stroke-width="1.6" d="M1100.0,439.4 1105.0,440.6 1110.0,442.5 1113.8,445.0"/><path stroke-width="1.6" d="M1107.5,431.9 1110.0,435.0 1113.1,436.2"/><path stroke-width="1.6" d="M1092.5,450.0 1097.5,451.9 1102.5,451.2 1106.2,453.1"/><path stroke-width="2.0" d="M1095.0,456.2 1100.0,457.5 1105.0,458.1"/><path stroke-width="2.0" d="M876.2,561.9 878.8,563.8 880.0,568.8 878.8,573.8"/><path stroke-width="2.6" d="M724.4,640.0 723.1,635.0 723.5,630.0 724.8,624.4 726.6,618.1 729.8,612.8 733.5,609.0 737.2,605.9 741.2,602.8 746.0,599.6 751.0,597.1 756.0,594.6 761.0,592.1 763.8,589.0 767.5,585.9"/><path stroke-width="1.6" d="M716.2,623.8 720.6,625.0 724.4,624.4"/><path stroke-width="1.6" d="M720.0,621.2 721.9,625.0 720.6,628.1"/><path stroke-width="1.6" d="M736.2,596.9 738.1,600.0 741.2,599.4"/><path stroke-width="1.6" d="M741.2,595.6 743.1,598.8"/><path stroke-width="1.6" d="M732.5,601.9 735.0,605.0"/><path stroke-width="1.6" d="M764.4,575.0 767.5,576.9 768.8,574.4"/><path stroke-width="1.6" d="M763.1,586.2 765.6,587.5"/><path stroke-width="2.6" d="M725.6,620.0 723.5,625.0 722.5,630.0 723.5,636.2 725.2,642.5 726.9,648.1 727.5,651.9"/><path stroke-width="1.6" d="M716.9,625.0 721.2,626.2 723.8,625.0"/><path stroke-width="1.6" d="M720.0,621.9 721.9,626.2 721.2,629.4"/><path stroke-width="1.8" d="M990.0,611.2 993.1,613.1 995.6,615.6 993.8,618.8 991.2,620.6"/><path stroke-width="1.6" d="M990.6,615.0 995.0,617.5"/><path stroke-width="2.4" d="M998.1,637.5 999.0,641.2 1001.2,643.1 1003.8,640.2 1005.6,643.8"/><path stroke-width="1.6" d="M998.8,633.1 1002.5,633.8"/><path stroke-width="3.0" d="M1008.1,652.5 1010.2,655.2 1014.0,657.1 1017.8,660.2 1020.0,664.0 1019.0,667.5 1021.5,669.4 1025.2,670.0 1027.5,672.2 1031.2,670.0 1034.0,666.2"/><path stroke-width="1.8" d="M1018.1,678.5 1023.1,677.2 1028.8,674.4 1033.8,670.0 1036.5,664.0"/><path stroke-width="2.0" d="M931.2,563.1 935.0,565.0 938.8,568.1 941.2,572.5 942.5,575.6 947.5,577.5 951.2,575.6 955.0,573.1"/><path stroke-width="1.5" d="M946.2,576.9 950.0,575.0 953.1,573.8"/><path stroke-width="1.6" d="M257.5,391.2 262.5,393.8 267.5,391.2 268.8,397.5 266.2,402.5"/><path stroke-width="1.6" d="M266.2,390.0 270.0,397.5 273.8,405.0 276.2,406.2"/><path stroke-width="1.6" d="M304.5,483.2 308.8,484.5 313.0,483.5 318.0,484.2 322.5,483.8"/><path stroke-width="1.2" d="M310.5,365.0 313.0,365.0 313.5,368.8 311.5,371.5 309.5,369.0 310.5,365.0"/><path stroke-width="1.2" d="M318.0,343.0 320.5,342.5 322.0,347.0 321.0,350.0 319.0,348.0 318.0,343.0"/><path stroke-width="1.6" d="M913.8,200.6 915.0,205.0 917.5,207.5 920.0,203.8"/><path stroke-width="1.5" d="M905.0,219.4 908.8,216.9 912.5,213.8 915.6,211.2 918.1,208.8"/><path stroke-width="2.0" d="M1110.0,241.9 1107.5,245.0 1106.2,248.1 1110.0,248.8 1107.5,251.2 1105.0,251.9"/></g>
<g font-family='"Liberation Serif", "DejaVu Serif", serif' font-weight="bold" font-size="16.6" text-anchor="middle" fill="#1c1c1c" stroke="#fff" stroke-width="4.6" stroke-linejoin="round" paint-order="stroke">
<text x="304.5" y="166">WA</text>
<text x="302" y="256.5">OR</text>
<text x="409" y="243.5">ID</text>
<text x="500" y="175.5">MT</text>
<text x="539" y="278">WY</text>
<text x="667.9" y="164.4">ND</text>
<text x="671.9" y="243.7">SD</text>
<text x="679" y="316.2">NE</text>
<text x="317.5" y="414">CA</text>
<text x="372.5" y="367">NV</text>
<text x="463.5" y="369.5">UT</text>
<text x="575.6" y="376.2">CO</text>
<text x="464.7" y="481.9">AZ</text>
<text x="565.2" y="479.4">NM</text>
<text x="704" y="388.7">KS</text>
<text x="721.2" y="454.4">OK</text>
<text x="688" y="541.9">TX</text>
<text x="779" y="194.5">MN</text>
<text x="794.4" y="302.5">IA</text>
<text x="812.8" y="390.6">MO</text>
<text x="813.3" y="470">AR</text>
<text x="810.9" y="542.5">LA</text>
<text x="857.5" y="238">WI</text>
<text x="872.8" y="350.6">IL</text>
<text x="925.5" y="355">IN</text>
<text x="955.5" y="266.9">MI</text>
<text x="989" y="345.6">OH</text>
<text x="944" y="410.6">KY</text>
<text x="925" y="449.4">TN</text>
<text x="862" y="515.6">MS</text>
<text x="915.9" y="515">AL</text>
<text x="976.9" y="518">GA</text>
<text x="994.9" y="602">FL</text>
<text x="1022" y="490.6">SC</text>
<text x="1050.6" y="455.6">NC</text>
<text x="1060.5" y="411.2">VA</text>
<text x="1028.5" y="384.4">WV</text>
<text x="1080.3" y="331.9">PA</text>
<text x="1120.9" y="278.7">NY</text>
<text x="1173.5" y="244.4">VT</text>
<text x="1193.3" y="270.8">NH</text>
<text x="1236" y="218.2">ME</text>
<text x="1172.5" y="313.5">CT</text>
<text x="1145.8" y="353.7">NJ</text>
<text x="1086.5" y="368.7">DC</text>
<text x="1111.2" y="383">MD</text>
</g>
<text x="335" y="49.3" font-family='"Liberation Sans", Arial, sans-serif' font-size="34.8" font-weight="bold" text-anchor="start" textLength="638" lengthAdjust="spacingAndGlyphs" fill="#000">NWS Heat Risk Forecast, July 27, 2025</text>
<text x="37" y="192" font-family='"Liberation Sans", Arial, sans-serif' font-size="24.6" font-weight="bold" text-anchor="start" textLength="116" lengthAdjust="spacingAndGlyphs" fill="#000">Heat Risk</text>
<rect x="27" y="215.2" width="67.3" height="31.5" fill="#E4FDF0" stroke="#0B2239" stroke-width="2"/>
<text x="104.8" y="238.8" font-family='"Liberation Sans", Arial, sans-serif' font-size="20.3" font-weight="normal" text-anchor="start" textLength="118.5" lengthAdjust="spacingAndGlyphs" fill="#111">Little to none</text>
<rect x="27" y="258.1" width="67.3" height="31.5" fill="#F5F254" stroke="#0B2239" stroke-width="2"/>
<text x="104.8" y="281.7" font-family='"Liberation Sans", Arial, sans-serif' font-size="20.3" font-weight="normal" text-anchor="start" textLength="52" lengthAdjust="spacingAndGlyphs" fill="#111">Minor</text>
<rect x="27" y="301.0" width="67.3" height="31.5" fill="#F7992E" stroke="#0B2239" stroke-width="2"/>
<text x="104.8" y="324.6" font-family='"Liberation Sans", Arial, sans-serif' font-size="20.3" font-weight="normal" text-anchor="start" textLength="86" lengthAdjust="spacingAndGlyphs" fill="#111">Moderate</text>
<rect x="27" y="343.9" width="67.3" height="31.5" fill="#E22E33" stroke="#0B2239" stroke-width="2"/>
<text x="104.8" y="367.5" font-family='"Liberation Sans", Arial, sans-serif' font-size="20.3" font-weight="normal" text-anchor="start" textLength="51" lengthAdjust="spacingAndGlyphs" fill="#111">Major</text>
<rect x="27" y="386.8" width="67.3" height="31.5" fill="#7B0C7B" stroke="#0B2239" stroke-width="2"/>
<text x="104.8" y="410.4" font-family='"Liberation Sans", Arial, sans-serif' font-size="20.3" font-weight="normal" text-anchor="start" textLength="74" lengthAdjust="spacingAndGlyphs" fill="#111">Extreme</text>
<text x="5.5" y="708.3" font-family='"Liberation Sans", Arial, sans-serif' font-size="21.2" font-weight="normal" text-anchor="start" textLength="277.5" lengthAdjust="spacingAndGlyphs" fill="#111">Source: NWS, Evan Comen</text>
<line x1="1154.2" y1="332" x2="1151.5" y2="505.5" stroke="#222" stroke-width="1.1"/>
<circle cx="1150.9" cy="330.9" r="2.8" fill="#0B2A3F"/>
<text x="1049.0" y="532.2" font-family='"Liberation Sans", Arial, sans-serif' font-size="21.6" font-weight="normal" text-anchor="start" textLength="200" lengthAdjust="spacingAndGlyphs" fill="#111">High of 98°F in New</text>
<text x="1044.0" y="560.6" font-family='"Liberation Sans", Arial, sans-serif' font-size="21.6" font-weight="normal" text-anchor="start" textLength="210" lengthAdjust="spacingAndGlyphs" fill="#111">York, NY set to break</text>
<text x="1047.8" y="589.6" font-family='"Liberation Sans", Arial, sans-serif' font-size="21.6" font-weight="normal" text-anchor="start" textLength="202.5" lengthAdjust="spacingAndGlyphs" fill="#111">1892 heat record by</text>
<text x="1132.0" y="618.2" font-family='"Liberation Sans", Arial, sans-serif' font-size="21.6" font-weight="normal" text-anchor="start" textLength="34" lengthAdjust="spacingAndGlyphs" fill="#111">2°F</text>
</svg>
</body></html>
